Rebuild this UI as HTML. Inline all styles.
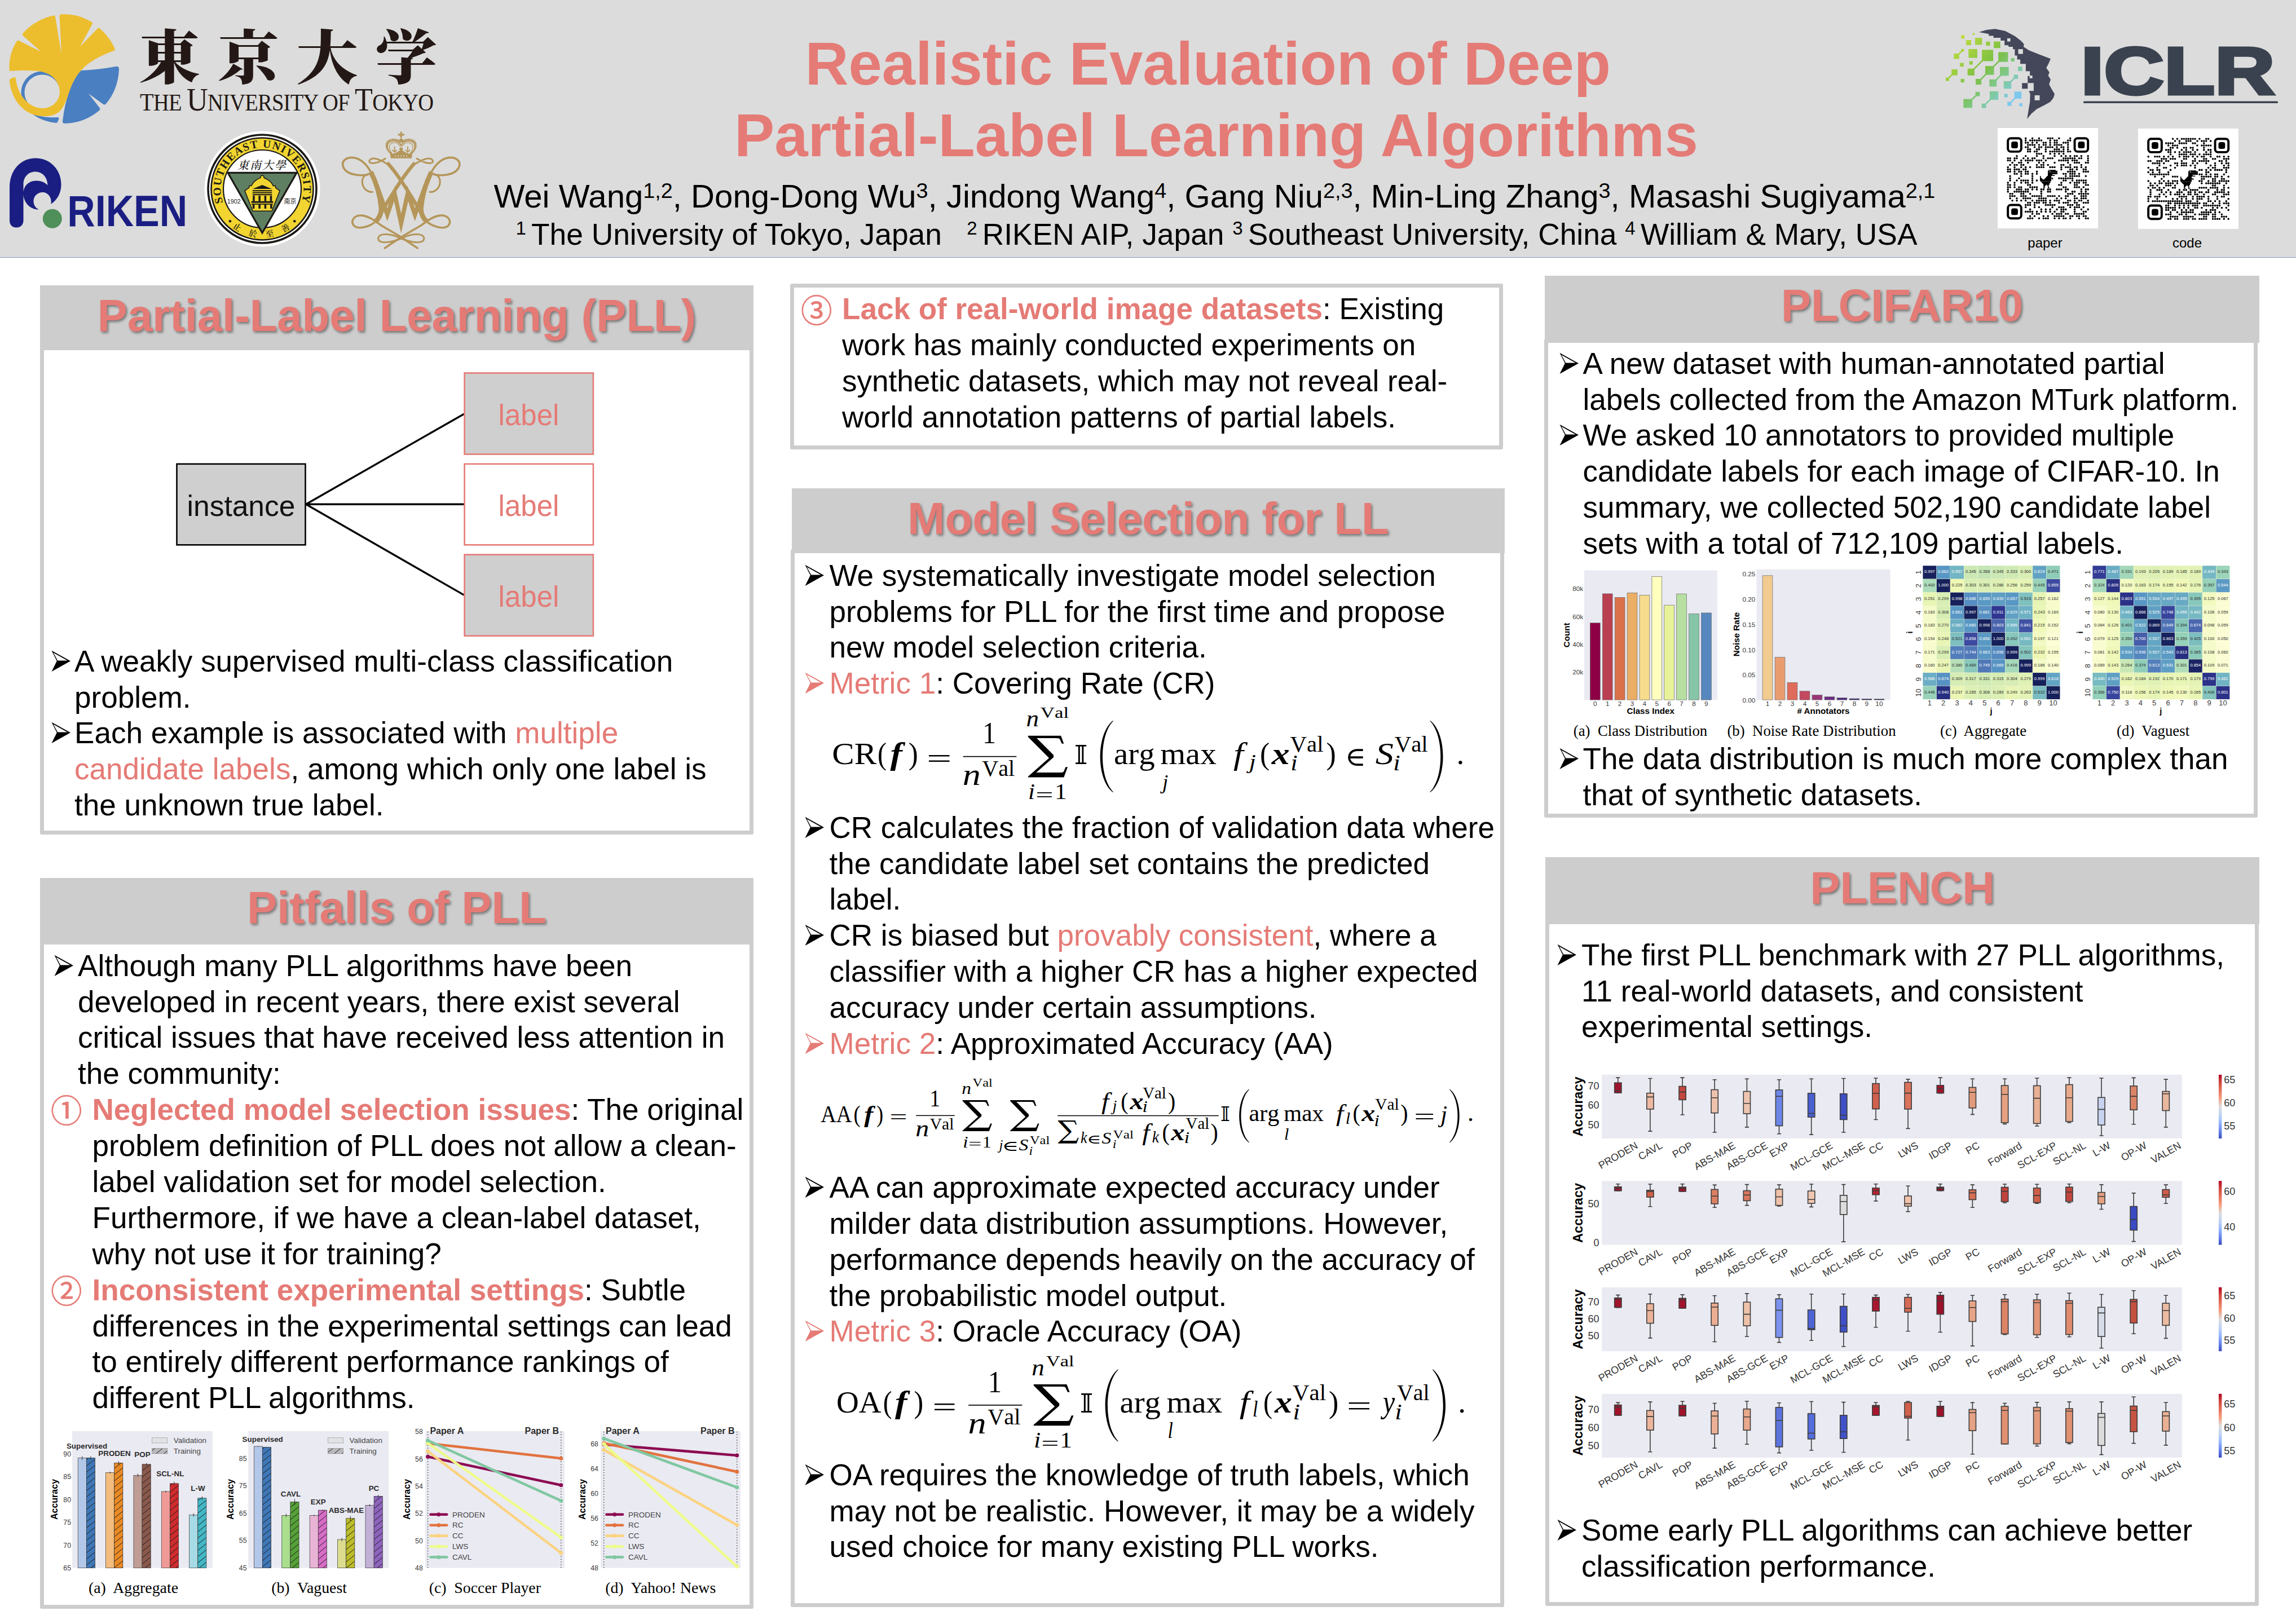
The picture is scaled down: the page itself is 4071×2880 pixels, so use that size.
<!DOCTYPE html>
<html lang="en"><head><meta charset="utf-8"><title>Realistic Evaluation of Deep Partial-Label Learning Algorithms</title>
<style>
html,body{margin:0;padding:0}
body{width:4071px;height:2880px;position:relative;overflow:hidden;background:#fff;font-family:"Liberation Sans","Noto Sans CJK JP",sans-serif;color:#000}
.t{position:absolute;white-space:nowrap;}
.ab{position:absolute;overflow:visible}
.abs{position:absolute}
.pb{position:absolute;border:7px solid #cdcdcd;border-radius:3px;background:#fff}
.ph{position:absolute;background:#cdcdcd}
.pt{position:absolute;text-align:center;font-weight:bold;font-size:79.6px;line-height:96px;color:#e57b76;text-shadow:2.5px 3px 4px rgba(0,0,0,.42);white-space:nowrap}
.s{color:#e57b76}
.sb{color:#e57b76;font-weight:bold}
svg text{white-space:pre}
sup.a{font-size:65%;vertical-align:baseline;position:relative;top:-0.46em;line-height:0}

.sc{font-size:42px}.bc{font-size:57px}
sup.b{font-size:62%;vertical-align:baseline;position:relative;top:-0.54em;line-height:0}
</style></head><body>
<div class="abs" style="left:0;top:0;width:4071px;height:456px;background:#dcdcdc"></div>
<div class="abs" style="left:0;top:456px;width:4071px;height:1.1px;background:#8496c8"></div>
<!-- UTokyo ginkgo -->
<svg class="abs" style="left:10px;top:20px" width="210" height="210" viewBox="10 20 210 210">
<g fill="#4a7fc1">
<path d="M143 125 C165 124 186 121.5 205 118 Q211.5 117 211 123.5 C210 146 202 168 188 184 Q185.5 187 182.5 184.5 L157 166 L176.5 191 Q178.5 194 176 196 C158 211 137 218.5 115 219 Q110.5 219 111 215 C113 196 117 178 123 161 C128 147 134 135 143 125 Z"/>
<path d="M75 126.5 a37.5 37.5 0 1 0 0.01 0 Z M75 132.5 a31.5 31.5 0 1 1 -0.01 0 Z" fill-rule="evenodd"/>
<path d="M56 201 C70 207 86 209 101 208 Q106 208 104 212 L101 218 C86 217 70 212 56 201 Z"/>
</g>
<g fill="#ecbe2e">
<path d="M16.5 116 C17 100 22 85 29.5 73.5 Q31.5 70.5 34.5 72.5 L73 92 L41 63.5 Q38.5 61 41 58.5 C55 43 74 32 95 27.5 Q97.5 27 98 29.5 L109 96 L105.5 28 Q105.5 25.5 108 25.5 C127 24 146 29 162.5 39 Q165 40.5 163.5 43 L142 82.500 L173 50.5 Q175 48.500 177 50.5 C188.500 60.500 198 73 203.500 86 Q204.500 89.500 201 90.500 C180 97.500 160 108 145.500 123 C134 135 127 150 122 165 C118 178 113 190 106 197 C98 205 86 206.500 74 206 C52 205 33 190 24 170 C20 161 17.500 152 16.800 143 Q16.500 140.500 19 139.500 L24.500 137 Q27.500 136 27.800 139 C29 149 32 159 37.500 168 C46 182 60 192 76 192 C91 192 103 181 105.500 168 C108 153 99 138 86 131.500 C78 127.500 70 126 62 125.500 C47 124.500 33 125 20 126 Q16 126.300 16.500 122 Z"/>
</g>
</svg>
<!-- UTokyo wordmark -->
<div class="t" style="left:246px;top:19.5px;font-family:'Noto Serif CJK JP','Noto Serif CJK SC',serif;font-weight:900;font-size:104px;line-height:150px;letter-spacing:28.5px;transform:scaleX(1.055);transform-origin:0 0;color:#231815">東京大学</div>
<div class="t" style="left:248px;top:147px;font-family:'Liberation Serif',serif;font-size:44px;line-height:60px;color:#231815;letter-spacing:-0.8px;transform:scaleX(0.916);transform-origin:0 0">T<span class="sc">HE</span> <span class="bc">U</span><span class="sc">NIVERSITY OF</span> <span class="bc">T</span><span class="sc">OKYO</span></div>
<!-- RIKEN -->
<svg class="abs" style="left:10px;top:275px" width="330" height="140" viewBox="10 275 330 140">
<path fill="#1a1e82" fill-rule="evenodd" d="M17 333 C17 300 38 280.500 63 280.500 C89 280.500 108.500 301 108.500 327 C108.500 341 103 353 90.500 362 C92.500 349 84 341 75.500 341 C66.500 341 59.500 348 59.500 356.500 C59.500 364 63.500 369.500 69 371.500 C55 372 42.500 361 41.500 345 L41.500 391 C41.500 399 36 403.500 29 403.500 C22 403.500 17 399 17 391 Z M41.500 340 C43 328 52 320.500 65 320.500 C73 320.500 80 323.500 84.500 328.500 C84 314 75 304.500 62.500 304.500 C50 304.500 41.500 314 41.500 327 Z"/>
<circle cx="92.800" cy="387.800" r="17" fill="#4f8f5a"/>
<text x="119.2" y="401" font-family="'Liberation Sans',sans-serif" font-weight="bold" font-size="77" fill="#1a1e82" textLength="213" lengthAdjust="spacingAndGlyphs">RIKEN</text>
</svg>
<svg class="abs" style="left:359.8px;top:230.39999999999998px" width="210" height="210" viewBox="359.8 230.39999999999998 210 210"><circle cx="464.8" cy="335.4" r="102.5" fill="#fff"/><circle cx="464.8" cy="335.4" r="96" fill="none" stroke="#1c1a17" stroke-width="3.600"/><circle cx="464.8" cy="335.4" r="80" fill="none" stroke="#f2d530" stroke-width="21"/><circle cx="464.8" cy="335.4" r="90.500" fill="none" stroke="#1c1a17" stroke-width="2.600"/><circle cx="464.8" cy="335.4" r="69" fill="none" stroke="#1c1a17" stroke-width="2.200"/><defs><path id="seuarc" d="M395.30 359.33 A73.5 73.5 0 1 1 534.30 359.33"/><path id="seuarc2" d="M411.85 403.17 A86 86 0 0 0 517.75 403.17"/></defs><text font-family="'Liberation Serif',serif" font-weight="bold" font-size="19.500" fill="#1c1a17" textLength="277.7" lengthAdjust="spacing"><textPath href="#seuarc">SOUTHEAST UNIVERSITY</textPath></text><text font-family="'Noto Serif CJK SC',serif" font-weight="600" font-size="14.500" fill="#1c1a17" textLength="110.1" lengthAdjust="spacing"><textPath href="#seuarc2">止於至善</textPath></text><circle cx="407.7" cy="392.7" r="2.300" fill="#1c1a17"/><circle cx="522.0" cy="392.7" r="2.300" fill="#1c1a17"/><path d="M403.8 306.7 L525.8 306.7 L464.8 413.5 Z" fill="#5f7f62" stroke="#1c1a17" stroke-width="3.200" stroke-linejoin="miter"/><path d="M433.8 338.7 L441.5 333.2 L441.5 330.0 L445.8 330.0 C448.0 322.4 457.8 316.9 461.7 315.8 L461.7 313.2 L464.8 311.0 L467.8 313.2 L467.8 315.8 C472.0 316.9 481.8 322.4 483.9 330.0 L488.3 330.0 L488.3 333.2 L495.9 338.7 L481.8 374.6 L448.0 374.6 Z" fill="#f2d530" stroke="#1c1a17" stroke-width="1.500"/><path d="M447.6 335.4 L464.8 328.4 L482.0 335.4 Z" fill="#1c1a17"/><rect x="447.6" y="337.6" width="34.4" height="2.0" fill="#1c1a17"/><rect x="447.6" y="341.1" width="34.4" height="2.0" fill="#1c1a17"/><rect x="447.6" y="344.6" width="34.4" height="2.0" fill="#1c1a17"/><rect x="448.0" y="347.4" width="3.5" height="9.8" fill="#1c1a17"/><rect x="458.2" y="347.4" width="3.5" height="9.8" fill="#1c1a17"/><rect x="468.5" y="347.4" width="3.5" height="9.8" fill="#1c1a17"/><rect x="478.5" y="347.4" width="3.5" height="9.8" fill="#1c1a17"/><rect x="445.4" y="357.2" width="38.8" height="3.0" fill="#1c1a17"/><rect x="447.6" y="362.6" width="3.5" height="7.8" fill="#1c1a17"/><rect x="458.2" y="362.6" width="3.5" height="7.8" fill="#1c1a17"/><rect x="468.5" y="362.6" width="3.5" height="7.8" fill="#1c1a17"/><rect x="478.9" y="362.6" width="3.5" height="7.8" fill="#1c1a17"/><rect x="445.8" y="361.6" width="37.9" height="1.7" fill="#1c1a17"/><text x="464.8" y="300.1" text-anchor="middle" font-family="'Noto Serif CJK TC','Noto Serif CJK SC',serif" font-weight="500" font-size="20" fill="#1c1a17" letter-spacing="2" font-style="italic">東南大學</text><text x="414.5" y="361.1" text-anchor="middle" font-family="'Liberation Sans',sans-serif" font-size="10.800" fill="#1c1a17">1902</text><text x="514.4" y="361.1" text-anchor="middle" font-family="'Noto Sans CJK SC',sans-serif" font-size="11" fill="#1c1a17">南京</text></svg>
<svg class="abs" style="left:600px;top:228px" width="226" height="218" viewBox="600 228 226 218"><g fill="none" stroke="#b5965a" stroke-linecap="round" stroke-linejoin="round"><path stroke-width="3.600" d="M652.2 309.7 C640.6 311.7 617.6 311.7 609.5 298.2 C602.7 284.6 616.3 276.5 631.2 280.5 C644.7 284.6 654.2 298.2 659.6 309.0"/><path stroke-width="8.500" stroke-linecap="butt" d="M657.6 304.9 C666.4 322.5 673.8 346.9 675.9 368.6 C676.5 379.4 671.8 387.6 665.0 393.7"/><path stroke-width="3.600" d="M667.7 390.9 C656.9 402.5 633.9 407.9 627.1 399.7 C620.3 390.3 629.8 380.8 642.0 382.1 C654.2 383.5 665.0 391.6 675.9 399.7 L708.4 418.7 L740.2 440.1"/><path stroke-width="3.200" d="M660.3 340.4 C651.5 341.5 642.3 333.4 642.3 322.5 C642.3 314.4 647.4 309.7 654.2 308.3"/><path stroke-width="3" d="M683.3 281.2 C675.9 286.0 663.7 291.4 656.9 288.7 C651.5 286.0 656.9 279.9 665.0 281.2 C673.2 282.6 681.3 287.3 688.7 292.1"/><path stroke-width="6.200" stroke-linecap="butt" d="M686.7 288.7 C703.0 306.3 727.3 344.2 747.0 378.1"/><path stroke-width="3" d="M711.2 423.0 C694.8 414.7 673.8 411.9 670.7 421.4 C668.4 432.3 689.4 432.0 711.2 423.0"/><path stroke-width="3.600" d="M770.3 309.7 C781.8 311.7 804.8 311.7 813.0 298.2 C819.7 284.6 806.2 276.5 791.3 280.5 C777.7 284.6 768.2 298.2 762.8 309.0"/><path stroke-width="8.500" stroke-linecap="butt" d="M764.9 304.9 C756.1 322.5 748.6 346.9 746.6 368.6 C745.9 379.4 750.6 387.6 757.4 393.7"/><path stroke-width="3.600" d="M754.7 390.9 C765.5 402.5 788.6 407.9 795.3 399.7 C802.1 390.3 792.6 380.8 780.4 382.1 C768.2 383.5 757.4 391.6 746.6 399.7 L714.1 418.7 L682.2 440.1"/><path stroke-width="3.200" d="M762.2 340.4 C771.0 341.5 780.2 333.4 780.2 322.5 C780.2 314.4 775.0 309.7 768.2 308.3"/><path stroke-width="3" d="M739.1 281.2 C746.6 286.0 758.8 291.4 765.5 288.7 C771.0 286.0 765.5 279.9 757.4 281.2 C749.3 282.6 741.2 287.3 733.7 292.1"/><path stroke-width="6.200" stroke-linecap="butt" d="M735.7 288.7 C719.5 306.3 695.1 344.2 675.5 378.1"/><path stroke-width="3" d="M711.2 423.0 C727.6 414.7 748.6 411.9 751.7 421.4 C754.0 432.3 733.0 432.0 711.2 423.0"/></g><path fill="none" stroke="#b5965a" stroke-width="7.500" stroke-linejoin="miter" stroke-miterlimit="30" d="M667.7 328.0 L686.7 380.8 L699.6 342.9 L711.2 396.4 L722.9 342.9 L735.7 380.8 L754.7 328.0"/><g fill="none" stroke="#b5965a" stroke-width="2.200" stroke-linecap="round"><path d="M694.8 274.4 C684.7 265.6 683.3 252.1 695.5 249.8 C703.6 248.4 709.0 252.8 711.2 258.2"/><path stroke-width="1.200" d="M697.3 274.4 C688.7 266.3 688.1 255.5 696.5 253.2 C703.0 251.8 707.7 255.5 709.5 259.9"/><path stroke-width="3" stroke-dasharray="0.100 3.200" d="M693.5 271.7 C682.6 264.3 681.0 250.1 694.8 247.4 C701.6 246.4 707.0 248.7 709.5 252.1"/><path stroke-width="1.800" d="M699.6 260.5 L699.6 270.4 M696.2 266.3 C696.5 269.0 702.7 269.0 703.0 266.3"/><path d="M727.6 274.4 C737.8 265.6 739.1 252.1 726.9 249.8 C718.8 248.4 713.4 252.8 711.2 258.2"/><path stroke-width="1.200" d="M725.2 274.4 C733.7 266.3 734.4 255.5 726.0 253.2 C719.5 251.8 714.7 255.5 713.0 259.9"/><path stroke-width="3" stroke-dasharray="0.100 3.200" d="M729.0 271.7 C739.8 264.3 741.4 250.1 727.6 247.4 C720.8 246.4 715.4 248.7 713.0 252.1"/><path stroke-width="1.800" d="M722.9 260.5 L722.9 270.4 M726.3 266.3 C726.0 269.0 719.8 269.0 719.5 266.3"/></g><g fill="#b5965a"><path d="M691.8 273.8 L730.9 273.8 L729.8 280.8 L692.9 280.8 Z"/><path d="M693.5 274.0 L703.0 270.4 L711.2 265.6 L719.5 270.4 L729.0 274.0 Z"/><circle cx="711.2" cy="249.1" r="3.600"/><circle cx="711.2" cy="264.6" r="3"/><path d="M709.5 233.8 L713.0 233.8 L712.6 237.5 L716.8 236.9 L716.8 240.7 L712.6 240.2 L713.0 244.2 L709.5 244.2 L709.9 240.2 L705.7 240.7 L705.7 236.9 L709.9 237.5 Z"/></g><circle cx="701.3" cy="276.6" r="1.050" fill="#dcdcdc"/><circle cx="706.3" cy="276.6" r="1.050" fill="#dcdcdc"/><circle cx="711.2" cy="276.6" r="1.050" fill="#dcdcdc"/><circle cx="716.2" cy="276.6" r="1.050" fill="#dcdcdc"/><circle cx="721.1" cy="276.6" r="1.050" fill="#dcdcdc"/></svg>
<svg class="abs" style="left:3440px;top:40px" width="620" height="180" viewBox="3440 40 620 180"><defs><linearGradient id="icgU" gradientUnits="userSpaceOnUse" x1="3447" y1="58" x2="3586" y2="192"><stop offset="0" stop-color="#d9e63c"/><stop offset="0.500" stop-color="#7cc043"/><stop offset="0.720" stop-color="#7fcaa0"/><stop offset="0.860" stop-color="#7ec8ee"/><stop offset="1" stop-color="#7ec8ee"/></linearGradient></defs><path fill="#44475a" d="M3509.0 57.1 L3522.1 52.9 L3537.5 51.2 L3555.6 55.1 L3572.4 64.1 L3583.5 72.4 L3588.6 78.0 L3588.0 83.0 L3597.5 89.2 L3615.7 96.4 L3636.0 104.3 L3632.4 112.4 L3628.2 120.5 L3633.8 128.3 L3631.6 133.9 L3636.0 141.1 L3633.2 149.5 L3638.0 158.4 L3643.0 166.8 L3640.8 173.8 L3635.2 180.8 L3625.4 186.3 L3611.5 193.3 L3601.7 201.7 L3594.2 210.9 L3596.4 197.5 L3599.2 180.8 L3599.7 166.8 L3597.5 161.2 L3605.9 161.2 L3605.9 147.3 L3595.3 147.3 L3595.3 134.7 L3599.2 134.7 L3599.2 126.3 L3591.9 126.3 L3591.9 113.2 L3582.1 113.2 L3582.1 105.4 L3576.6 105.4 L3576.6 98.4 L3572.4 98.4 L3572.4 87.2 L3569.0 87.2 L3569.0 83.0 L3561.2 83.0 L3561.2 80.3 L3554.2 80.3 L3554.2 71.9 L3547.3 71.9 L3547.3 66.9 L3534.7 66.9 L3534.7 63.5 L3526.3 63.5 L3526.3 60.2 Z"/><rect x="3559.0" y="68.0" width="5.6" height="5.6" fill="#dcdcdc"/><rect x="3578.5" y="87.2" width="8.4" height="8.4" fill="#dcdcdc"/><rect x="3598.6" y="133.9" width="5.0" height="5.0" fill="#dcdcdc"/><rect x="3607.6" y="169.0" width="8.9" height="8.9" fill="#dcdcdc"/><rect x="3585.2" y="147.3" width="10.1" height="10.1" fill="#44475a"/><rect x="3477.2" y="62.4" width="6.1" height="6.1" fill="url(#icgU)"/><rect x="3497.6" y="58.5" width="3.4" height="3.4" fill="url(#icgU)"/><rect x="3486.1" y="71.0" width="8.9" height="8.9" fill="url(#icgU)"/><rect x="3502.0" y="67.1" width="12.3" height="12.3" fill="url(#icgU)"/><rect x="3521.3" y="73.8" width="7.3" height="7.3" fill="url(#icgU)"/><rect x="3535.0" y="73.6" width="11.7" height="11.7" fill="url(#icgU)"/><rect x="3477.2" y="86.7" width="5.0" height="5.0" fill="url(#icgU)"/><rect x="3464.3" y="95.0" width="9.5" height="9.5" fill="url(#icgU)"/><rect x="3490.3" y="87.0" width="15.6" height="15.6" fill="url(#icgU)"/><rect x="3514.0" y="88.3" width="20.1" height="20.1" fill="url(#icgU)"/><rect x="3543.1" y="92.5" width="17.3" height="17.3" fill="url(#icgU)"/><rect x="3565.7" y="102.9" width="6.1" height="6.1" fill="url(#icgU)"/><rect x="3475.2" y="111.5" width="6.7" height="6.7" fill="url(#icgU)"/><rect x="3491.7" y="108.4" width="6.1" height="6.1" fill="url(#icgU)"/><rect x="3460.2" y="123.0" width="10.6" height="10.6" fill="url(#icgU)"/><rect x="3488.6" y="121.6" width="12.3" height="12.3" fill="url(#icgU)"/><rect x="3519.9" y="117.1" width="15.6" height="15.6" fill="url(#icgU)"/><rect x="3546.1" y="118.8" width="15.6" height="15.6" fill="url(#icgU)"/><rect x="3578.0" y="118.2" width="7.8" height="7.8" fill="url(#icgU)"/><rect x="3449.8" y="137.5" width="6.1" height="6.1" fill="url(#icgU)"/><rect x="3476.6" y="140.0" width="6.1" height="6.1" fill="url(#icgU)"/><rect x="3503.1" y="140.0" width="10.1" height="10.1" fill="url(#icgU)"/><rect x="3527.4" y="140.8" width="12.8" height="12.8" fill="url(#icgU)"/><rect x="3552.8" y="143.9" width="13.4" height="13.4" fill="url(#icgU)"/><rect x="3570.7" y="132.5" width="7.3" height="7.3" fill="url(#icgU)"/><rect x="3502.6" y="162.9" width="7.8" height="7.8" fill="url(#icgU)"/><rect x="3528.0" y="162.0" width="15.1" height="15.1" fill="url(#icgU)"/><rect x="3553.7" y="166.5" width="6.1" height="6.1" fill="url(#icgU)"/><rect x="3481.4" y="175.7" width="15.6" height="15.6" fill="url(#icgU)"/><rect x="3513.8" y="183.8" width="7.8" height="7.8" fill="url(#icgU)"/><rect x="3571.5" y="162.3" width="12.8" height="12.8" fill="url(#icgU)"/><rect x="3559.3" y="180.5" width="7.3" height="7.3" fill="url(#icgU)"/><rect x="3580.2" y="183.0" width="5.6" height="5.6" fill="url(#icgU)"/><path d="M3469.1 99.8 L3479.7 89.2" stroke="url(#icgU)" stroke-width="2.600"/><path d="M3494.8 127.7 L3524.1 98.4" stroke="url(#icgU)" stroke-width="2.600"/><path d="M3527.7 124.9 L3551.7 101.2" stroke="url(#icgU)" stroke-width="2.600"/><path d="M3452.9 140.6 L3465.5 128.3" stroke="url(#icgU)" stroke-width="2.600"/><path d="M3508.2 145.0 L3527.7 124.9" stroke="url(#icgU)" stroke-width="2.600"/><path d="M3533.9 147.3 L3554.0 126.6" stroke="url(#icgU)" stroke-width="2.600"/><path d="M3559.5 150.6 L3574.3 136.1" stroke="url(#icgU)" stroke-width="2.600"/><path d="M3489.2 183.5 L3506.5 166.8" stroke="url(#icgU)" stroke-width="2.600"/><path d="M3517.7 187.7 L3535.5 169.6" stroke="url(#icgU)" stroke-width="2.600"/><path d="M3562.9 184.1 L3578.0 168.7" stroke="url(#icgU)" stroke-width="2.600"/><text x="3689.5" y="166.500" font-family="'Liberation Sans',sans-serif" font-weight="bold" font-size="119" fill="#3b424f" stroke="#3b424f" stroke-width="5" stroke-linejoin="miter" textLength="344" lengthAdjust="spacingAndGlyphs">ICLR</text><rect x="3694" y="179.400" width="345" height="3.600" rx="1.500" fill="#3b424f"/></svg>
<svg class="abs" style="left:3541.5px;top:227px" width="178" height="178" viewBox="0 0 178 178"><rect width="178" height="178" fill="#fff"/><rect x="18.17" y="18.17" width="23.68" height="23.68" rx="5.13" fill="none" stroke="#000" stroke-width="3.95"/><rect x="24.09" y="24.09" width="11.84" height="11.84" rx="3.55" fill="#000"/><rect x="136.55" y="18.17" width="23.68" height="23.68" rx="5.13" fill="none" stroke="#000" stroke-width="3.95"/><rect x="142.47" y="24.09" width="11.84" height="11.84" rx="3.55" fill="#000"/><rect x="18.17" y="136.55" width="23.68" height="23.68" rx="5.13" fill="none" stroke="#000" stroke-width="3.95"/><rect x="24.09" y="142.47" width="11.84" height="11.84" rx="3.55" fill="#000"/><path d="M49.7 18.2h0M61.6 18.2h0M73.4 18.2h0M89.2 18.2h0M93.1 18.2h0M97.1 18.2h0M108.9 18.2h0M128.7 18.2h0M49.7 22.1h0M57.6 22.1h0M61.6 22.1h0M65.5 22.1h0M69.5 22.1h0M73.4 22.1h0M77.4 22.1h0M93.1 22.1h0M101.0 22.1h0M105.0 22.1h0M124.7 22.1h0M128.7 22.1h0M49.7 26.1h0M53.7 26.1h0M61.6 26.1h0M69.5 26.1h0M81.3 26.1h0M85.3 26.1h0M93.1 26.1h0M101.0 26.1h0M105.0 26.1h0M116.8 26.1h0M120.8 26.1h0M124.7 26.1h0M53.7 30.0h0M57.6 30.0h0M61.6 30.0h0M65.5 30.0h0M73.4 30.0h0M81.3 30.0h0M85.3 30.0h0M93.1 30.0h0M101.0 30.0h0M105.0 30.0h0M108.9 30.0h0M112.9 30.0h0M124.7 30.0h0M49.7 34.0h0M53.7 34.0h0M65.5 34.0h0M73.4 34.0h0M77.4 34.0h0M85.3 34.0h0M89.2 34.0h0M93.1 34.0h0M97.1 34.0h0M105.0 34.0h0M112.9 34.0h0M116.8 34.0h0M124.7 34.0h0M53.7 37.9h0M57.6 37.9h0M69.5 37.9h0M73.4 37.9h0M85.3 37.9h0M101.0 37.9h0M105.0 37.9h0M108.9 37.9h0M116.8 37.9h0M124.7 37.9h0M53.7 41.8h0M57.6 41.8h0M65.5 41.8h0M69.5 41.8h0M85.3 41.8h0M93.1 41.8h0M97.1 41.8h0M101.0 41.8h0M105.0 41.8h0M108.9 41.8h0M112.9 41.8h0M116.8 41.8h0M124.7 41.8h0M128.7 41.8h0M69.5 45.8h0M73.4 45.8h0M77.4 45.8h0M93.1 45.8h0M101.0 45.8h0M108.9 45.8h0M116.8 45.8h0M34.0 49.7h0M49.7 49.7h0M69.5 49.7h0M81.3 49.7h0M101.0 49.7h0M112.9 49.7h0M120.8 49.7h0M128.7 49.7h0M136.6 49.7h0M140.5 49.7h0M148.4 49.7h0M160.2 49.7h0M18.2 53.7h0M22.1 53.7h0M30.0 53.7h0M34.0 53.7h0M45.8 53.7h0M53.7 53.7h0M61.6 53.7h0M65.5 53.7h0M81.3 53.7h0M89.2 53.7h0M93.1 53.7h0M97.1 53.7h0M116.8 53.7h0M120.8 53.7h0M124.7 53.7h0M128.7 53.7h0M132.6 53.7h0M136.6 53.7h0M144.4 53.7h0M148.4 53.7h0M160.2 53.7h0M18.2 57.6h0M22.1 57.6h0M30.0 57.6h0M41.8 57.6h0M49.7 57.6h0M53.7 57.6h0M57.6 57.6h0M61.6 57.6h0M69.5 57.6h0M73.4 57.6h0M77.4 57.6h0M85.3 57.6h0M108.9 57.6h0M112.9 57.6h0M116.8 57.6h0M120.8 57.6h0M124.7 57.6h0M132.6 57.6h0M136.6 57.6h0M140.5 57.6h0M160.2 57.6h0M26.1 61.6h0M37.9 61.6h0M41.8 61.6h0M53.7 61.6h0M73.4 61.6h0M81.3 61.6h0M101.0 61.6h0M124.7 61.6h0M136.6 61.6h0M140.5 61.6h0M144.4 61.6h0M156.3 61.6h0M160.2 61.6h0M22.1 65.5h0M30.0 65.5h0M34.0 65.5h0M41.8 65.5h0M45.8 65.5h0M69.5 65.5h0M77.4 65.5h0M81.3 65.5h0M89.2 65.5h0M112.9 65.5h0M116.8 65.5h0M128.7 65.5h0M148.4 65.5h0M18.2 69.5h0M30.0 69.5h0M41.8 69.5h0M49.7 69.5h0M57.6 69.5h0M69.5 69.5h0M73.4 69.5h0M77.4 69.5h0M81.3 69.5h0M93.1 69.5h0M97.1 69.5h0M101.0 69.5h0M112.9 69.5h0M120.8 69.5h0M124.7 69.5h0M128.7 69.5h0M136.6 69.5h0M140.5 69.5h0M148.4 69.5h0M156.3 69.5h0M18.2 73.4h0M22.1 73.4h0M30.0 73.4h0M34.0 73.4h0M37.9 73.4h0M45.8 73.4h0M49.7 73.4h0M112.9 73.4h0M128.7 73.4h0M132.6 73.4h0M140.5 73.4h0M152.3 73.4h0M156.3 73.4h0M18.2 77.4h0M22.1 77.4h0M30.0 77.4h0M37.9 77.4h0M41.8 77.4h0M49.7 77.4h0M53.7 77.4h0M69.5 77.4h0M124.7 77.4h0M128.7 77.4h0M132.6 77.4h0M136.6 77.4h0M152.3 77.4h0M156.3 77.4h0M160.2 77.4h0M30.0 81.3h0M34.0 81.3h0M41.8 81.3h0M49.7 81.3h0M53.7 81.3h0M61.6 81.3h0M69.5 81.3h0M116.8 81.3h0M120.8 81.3h0M128.7 81.3h0M132.6 81.3h0M136.6 81.3h0M144.4 81.3h0M22.1 85.3h0M41.8 85.3h0M61.6 85.3h0M120.8 85.3h0M128.7 85.3h0M132.6 85.3h0M136.6 85.3h0M140.5 85.3h0M144.4 85.3h0M156.3 85.3h0M22.1 89.2h0M37.9 89.2h0M61.6 89.2h0M108.9 89.2h0M112.9 89.2h0M116.8 89.2h0M120.8 89.2h0M124.7 89.2h0M128.7 89.2h0M132.6 89.2h0M22.1 93.1h0M34.0 93.1h0M41.8 93.1h0M45.8 93.1h0M49.7 93.1h0M53.7 93.1h0M61.6 93.1h0M69.5 93.1h0M116.8 93.1h0M120.8 93.1h0M132.6 93.1h0M140.5 93.1h0M144.4 93.1h0M148.4 93.1h0M152.3 93.1h0M156.3 93.1h0M18.2 97.1h0M30.0 97.1h0M41.8 97.1h0M49.7 97.1h0M53.7 97.1h0M61.6 97.1h0M112.9 97.1h0M128.7 97.1h0M136.6 97.1h0M140.5 97.1h0M144.4 97.1h0M152.3 97.1h0M156.3 97.1h0M18.2 101.0h0M22.1 101.0h0M30.0 101.0h0M53.7 101.0h0M57.6 101.0h0M108.9 101.0h0M112.9 101.0h0M136.6 101.0h0M140.5 101.0h0M156.3 101.0h0M160.2 101.0h0M18.2 105.0h0M22.1 105.0h0M30.0 105.0h0M37.9 105.0h0M41.8 105.0h0M57.6 105.0h0M61.6 105.0h0M65.5 105.0h0M69.5 105.0h0M116.8 105.0h0M120.8 105.0h0M136.6 105.0h0M140.5 105.0h0M144.4 105.0h0M152.3 105.0h0M18.2 108.9h0M34.0 108.9h0M37.9 108.9h0M41.8 108.9h0M49.7 108.9h0M53.7 108.9h0M61.6 108.9h0M69.5 108.9h0M77.4 108.9h0M81.3 108.9h0M89.2 108.9h0M93.1 108.9h0M105.0 108.9h0M108.9 108.9h0M112.9 108.9h0M120.8 108.9h0M124.7 108.9h0M148.4 108.9h0M156.3 108.9h0M160.2 108.9h0M18.2 112.9h0M30.0 112.9h0M34.0 112.9h0M37.9 112.9h0M41.8 112.9h0M45.8 112.9h0M49.7 112.9h0M53.7 112.9h0M77.4 112.9h0M89.2 112.9h0M93.1 112.9h0M120.8 112.9h0M132.6 112.9h0M136.6 112.9h0M148.4 112.9h0M156.3 112.9h0M22.1 116.8h0M26.1 116.8h0M41.8 116.8h0M45.8 116.8h0M57.6 116.8h0M77.4 116.8h0M124.7 116.8h0M128.7 116.8h0M132.6 116.8h0M144.4 116.8h0M148.4 116.8h0M152.3 116.8h0M156.3 116.8h0M160.2 116.8h0M22.1 120.8h0M26.1 120.8h0M30.0 120.8h0M41.8 120.8h0M45.8 120.8h0M49.7 120.8h0M61.6 120.8h0M65.5 120.8h0M69.5 120.8h0M73.4 120.8h0M77.4 120.8h0M89.2 120.8h0M93.1 120.8h0M97.1 120.8h0M101.0 120.8h0M108.9 120.8h0M120.8 120.8h0M124.7 120.8h0M136.6 120.8h0M148.4 120.8h0M152.3 120.8h0M156.3 120.8h0M22.1 124.7h0M34.0 124.7h0M45.8 124.7h0M49.7 124.7h0M53.7 124.7h0M57.6 124.7h0M73.4 124.7h0M77.4 124.7h0M81.3 124.7h0M85.3 124.7h0M105.0 124.7h0M112.9 124.7h0M120.8 124.7h0M136.6 124.7h0M140.5 124.7h0M148.4 124.7h0M152.3 124.7h0M156.3 124.7h0M26.1 128.7h0M34.0 128.7h0M41.8 128.7h0M49.7 128.7h0M61.6 128.7h0M69.5 128.7h0M73.4 128.7h0M77.4 128.7h0M81.3 128.7h0M85.3 128.7h0M93.1 128.7h0M101.0 128.7h0M105.0 128.7h0M108.9 128.7h0M124.7 128.7h0M128.7 128.7h0M136.6 128.7h0M144.4 128.7h0M148.4 128.7h0M160.2 128.7h0M53.7 132.6h0M57.6 132.6h0M65.5 132.6h0M69.5 132.6h0M73.4 132.6h0M81.3 132.6h0M85.3 132.6h0M93.1 132.6h0M108.9 132.6h0M116.8 132.6h0M120.8 132.6h0M124.7 132.6h0M136.6 132.6h0M140.5 132.6h0M152.3 132.6h0M156.3 132.6h0M160.2 132.6h0M49.7 136.6h0M53.7 136.6h0M57.6 136.6h0M65.5 136.6h0M85.3 136.6h0M89.2 136.6h0M93.1 136.6h0M97.1 136.6h0M101.0 136.6h0M124.7 136.6h0M128.7 136.6h0M132.6 136.6h0M140.5 136.6h0M144.4 136.6h0M49.7 140.5h0M65.5 140.5h0M73.4 140.5h0M97.1 140.5h0M108.9 140.5h0M112.9 140.5h0M116.8 140.5h0M128.7 140.5h0M136.6 140.5h0M140.5 140.5h0M144.4 140.5h0M152.3 140.5h0M57.6 144.4h0M77.4 144.4h0M85.3 144.4h0M93.1 144.4h0M105.0 144.4h0M112.9 144.4h0M116.8 144.4h0M120.8 144.4h0M136.6 144.4h0M148.4 144.4h0M160.2 144.4h0M49.7 148.4h0M53.7 148.4h0M57.6 148.4h0M61.6 148.4h0M69.5 148.4h0M77.4 148.4h0M85.3 148.4h0M93.1 148.4h0M101.0 148.4h0M112.9 148.4h0M116.8 148.4h0M136.6 148.4h0M152.3 148.4h0M156.3 148.4h0M61.6 152.3h0M69.5 152.3h0M73.4 152.3h0M97.1 152.3h0M105.0 152.3h0M108.9 152.3h0M112.9 152.3h0M120.8 152.3h0M124.7 152.3h0M136.6 152.3h0M140.5 152.3h0M144.4 152.3h0M148.4 152.3h0M152.3 152.3h0M57.6 156.3h0M65.5 156.3h0M81.3 156.3h0M89.2 156.3h0M101.0 156.3h0M105.0 156.3h0M108.9 156.3h0M112.9 156.3h0M116.8 156.3h0M128.7 156.3h0M132.6 156.3h0M140.5 156.3h0M144.4 156.3h0M152.3 156.3h0M156.3 156.3h0M53.7 160.2h0M57.6 160.2h0M61.6 160.2h0M73.4 160.2h0M81.3 160.2h0M85.3 160.2h0M89.2 160.2h0M101.0 160.2h0M108.9 160.2h0M116.8 160.2h0M120.8 160.2h0M128.7 160.2h0M144.4 160.2h0M156.3 160.2h0M160.2 160.2h0" stroke="#000" stroke-width="3.63" stroke-linecap="round" fill="none"/><path d="M90.50 74.22h12.40v1.55h-12.40zM88.95 75.77h3.10v1.55h-3.10zM93.60 75.77h12.40v1.55h-12.40zM88.95 77.32h17.05v1.55h-17.05zM88.95 78.88h17.05v1.55h-17.05zM88.95 80.42h17.05v1.55h-17.05zM88.95 81.97h7.75v1.55h-7.75zM88.95 83.52h12.40v1.55h-12.40zM75.00 85.07h1.55v1.55h-1.55zM87.40 85.07h7.75v1.55h-7.75zM75.00 86.62h1.55v1.55h-1.55zM85.85 86.62h9.30v1.55h-9.30zM75.00 88.17h3.10v1.55h-3.10zM84.30 88.17h13.95v1.55h-13.95zM75.00 89.72h4.65v1.55h-4.65zM82.75 89.72h12.40v1.55h-12.40zM96.70 89.72h1.55v1.55h-1.55zM75.00 91.27h20.15v1.55h-20.15zM75.00 92.82h20.15v1.55h-20.15zM76.55 94.38h17.05v1.55h-17.05zM78.10 95.92h15.50v1.55h-15.50zM79.65 97.47h12.40v1.55h-12.40zM81.20 99.02h10.85v1.55h-10.85zM81.20 100.57h4.65v1.55h-4.65zM87.40 100.57h3.10v1.55h-3.10zM81.20 102.12h3.10v1.55h-3.10zM88.95 102.12h1.55v1.55h-1.55zM81.20 103.67h1.55v1.55h-1.55zM88.95 103.67h1.55v1.55h-1.55zM81.20 105.22h3.10v1.55h-3.10zM88.95 105.22h3.10v1.55h-3.10z" fill="#000"/></svg>
<div class="t" style="left:3526px;width:200px;text-align:center;top:417.3px;font-size:24px;line-height:28px">paper</div>
<svg class="abs" style="left:3790.5px;top:227.5px" width="178" height="178" viewBox="0 0 178 178"><rect width="178" height="178" fill="#fff"/><rect x="18.17" y="18.17" width="23.68" height="23.68" rx="5.13" fill="none" stroke="#000" stroke-width="3.95"/><rect x="24.09" y="24.09" width="11.84" height="11.84" rx="3.55" fill="#000"/><rect x="136.55" y="18.17" width="23.68" height="23.68" rx="5.13" fill="none" stroke="#000" stroke-width="3.95"/><rect x="142.47" y="24.09" width="11.84" height="11.84" rx="3.55" fill="#000"/><rect x="18.17" y="136.55" width="23.68" height="23.68" rx="5.13" fill="none" stroke="#000" stroke-width="3.95"/><rect x="24.09" y="142.47" width="11.84" height="11.84" rx="3.55" fill="#000"/><path d="M61.6 18.2h0M69.5 18.2h0M77.4 18.2h0M81.3 18.2h0M85.3 18.2h0M89.2 18.2h0M93.1 18.2h0M97.1 18.2h0M101.0 18.2h0M108.9 18.2h0M120.8 18.2h0M124.7 18.2h0M65.5 22.1h0M73.4 22.1h0M85.3 22.1h0M89.2 22.1h0M93.1 22.1h0M105.0 22.1h0M112.9 22.1h0M116.8 22.1h0M120.8 22.1h0M128.7 22.1h0M49.7 26.1h0M53.7 26.1h0M57.6 26.1h0M61.6 26.1h0M73.4 26.1h0M77.4 26.1h0M81.3 26.1h0M85.3 26.1h0M97.1 26.1h0M101.0 26.1h0M116.8 26.1h0M53.7 30.0h0M61.6 30.0h0M65.5 30.0h0M69.5 30.0h0M105.0 30.0h0M112.9 30.0h0M116.8 30.0h0M120.8 30.0h0M124.7 30.0h0M128.7 30.0h0M57.6 34.0h0M61.6 34.0h0M69.5 34.0h0M81.3 34.0h0M85.3 34.0h0M93.1 34.0h0M97.1 34.0h0M116.8 34.0h0M49.7 37.9h0M53.7 37.9h0M57.6 37.9h0M77.4 37.9h0M85.3 37.9h0M97.1 37.9h0M105.0 37.9h0M116.8 37.9h0M124.7 37.9h0M128.7 37.9h0M53.7 41.8h0M57.6 41.8h0M65.5 41.8h0M73.4 41.8h0M81.3 41.8h0M85.3 41.8h0M89.2 41.8h0M93.1 41.8h0M101.0 41.8h0M120.8 41.8h0M128.7 41.8h0M57.6 45.8h0M73.4 45.8h0M77.4 45.8h0M81.3 45.8h0M85.3 45.8h0M93.1 45.8h0M97.1 45.8h0M101.0 45.8h0M108.9 45.8h0M116.8 45.8h0M120.8 45.8h0M124.7 45.8h0M128.7 45.8h0M18.2 49.7h0M30.0 49.7h0M34.0 49.7h0M37.9 49.7h0M45.8 49.7h0M53.7 49.7h0M61.6 49.7h0M73.4 49.7h0M81.3 49.7h0M85.3 49.7h0M89.2 49.7h0M97.1 49.7h0M105.0 49.7h0M112.9 49.7h0M116.8 49.7h0M128.7 49.7h0M140.5 49.7h0M144.4 49.7h0M152.3 49.7h0M160.2 49.7h0M41.8 53.7h0M45.8 53.7h0M49.7 53.7h0M57.6 53.7h0M61.6 53.7h0M65.5 53.7h0M81.3 53.7h0M85.3 53.7h0M101.0 53.7h0M116.8 53.7h0M120.8 53.7h0M132.6 53.7h0M136.6 53.7h0M152.3 53.7h0M156.3 53.7h0M160.2 53.7h0M18.2 57.6h0M22.1 57.6h0M34.0 57.6h0M37.9 57.6h0M41.8 57.6h0M49.7 57.6h0M53.7 57.6h0M77.4 57.6h0M97.1 57.6h0M101.0 57.6h0M108.9 57.6h0M112.9 57.6h0M116.8 57.6h0M120.8 57.6h0M124.7 57.6h0M144.4 57.6h0M148.4 57.6h0M156.3 57.6h0M26.1 61.6h0M30.0 61.6h0M34.0 61.6h0M37.9 61.6h0M45.8 61.6h0M65.5 61.6h0M69.5 61.6h0M77.4 61.6h0M81.3 61.6h0M85.3 61.6h0M97.1 61.6h0M105.0 61.6h0M120.8 61.6h0M136.6 61.6h0M148.4 61.6h0M156.3 61.6h0M160.2 61.6h0M37.9 65.5h0M57.6 65.5h0M69.5 65.5h0M77.4 65.5h0M81.3 65.5h0M85.3 65.5h0M93.1 65.5h0M101.0 65.5h0M128.7 65.5h0M136.6 65.5h0M152.3 65.5h0M160.2 65.5h0M18.2 69.5h0M34.0 69.5h0M45.8 69.5h0M49.7 69.5h0M65.5 69.5h0M101.0 69.5h0M124.7 69.5h0M132.6 69.5h0M136.6 69.5h0M152.3 69.5h0M156.3 69.5h0M160.2 69.5h0M22.1 73.4h0M26.1 73.4h0M34.0 73.4h0M37.9 73.4h0M57.6 73.4h0M108.9 73.4h0M112.9 73.4h0M120.8 73.4h0M128.7 73.4h0M136.6 73.4h0M140.5 73.4h0M144.4 73.4h0M148.4 73.4h0M156.3 73.4h0M18.2 77.4h0M26.1 77.4h0M37.9 77.4h0M53.7 77.4h0M120.8 77.4h0M124.7 77.4h0M156.3 77.4h0M22.1 81.3h0M26.1 81.3h0M30.0 81.3h0M34.0 81.3h0M37.9 81.3h0M41.8 81.3h0M45.8 81.3h0M49.7 81.3h0M53.7 81.3h0M108.9 81.3h0M112.9 81.3h0M120.8 81.3h0M128.7 81.3h0M136.6 81.3h0M140.5 81.3h0M152.3 81.3h0M30.0 85.3h0M45.8 85.3h0M61.6 85.3h0M65.5 85.3h0M69.5 85.3h0M112.9 85.3h0M116.8 85.3h0M120.8 85.3h0M124.7 85.3h0M128.7 85.3h0M136.6 85.3h0M140.5 85.3h0M148.4 85.3h0M160.2 85.3h0M41.8 89.2h0M112.9 89.2h0M116.8 89.2h0M132.6 89.2h0M136.6 89.2h0M148.4 89.2h0M152.3 89.2h0M18.2 93.1h0M37.9 93.1h0M45.8 93.1h0M53.7 93.1h0M61.6 93.1h0M65.5 93.1h0M69.5 93.1h0M108.9 93.1h0M112.9 93.1h0M124.7 93.1h0M132.6 93.1h0M136.6 93.1h0M144.4 93.1h0M148.4 93.1h0M152.3 93.1h0M156.3 93.1h0M160.2 93.1h0M22.1 97.1h0M30.0 97.1h0M37.9 97.1h0M41.8 97.1h0M49.7 97.1h0M53.7 97.1h0M57.6 97.1h0M61.6 97.1h0M69.5 97.1h0M112.9 97.1h0M120.8 97.1h0M124.7 97.1h0M128.7 97.1h0M132.6 97.1h0M136.6 97.1h0M140.5 97.1h0M144.4 97.1h0M156.3 97.1h0M22.1 101.0h0M26.1 101.0h0M34.0 101.0h0M49.7 101.0h0M53.7 101.0h0M57.6 101.0h0M65.5 101.0h0M132.6 101.0h0M136.6 101.0h0M152.3 101.0h0M18.2 105.0h0M26.1 105.0h0M30.0 105.0h0M37.9 105.0h0M45.8 105.0h0M61.6 105.0h0M65.5 105.0h0M108.9 105.0h0M112.9 105.0h0M116.8 105.0h0M120.8 105.0h0M128.7 105.0h0M132.6 105.0h0M136.6 105.0h0M140.5 105.0h0M152.3 105.0h0M160.2 105.0h0M22.1 108.9h0M34.0 108.9h0M37.9 108.9h0M41.8 108.9h0M53.7 108.9h0M73.4 108.9h0M81.3 108.9h0M85.3 108.9h0M93.1 108.9h0M97.1 108.9h0M101.0 108.9h0M105.0 108.9h0M124.7 108.9h0M140.5 108.9h0M148.4 108.9h0M152.3 108.9h0M22.1 112.9h0M41.8 112.9h0M49.7 112.9h0M57.6 112.9h0M69.5 112.9h0M73.4 112.9h0M77.4 112.9h0M89.2 112.9h0M93.1 112.9h0M101.0 112.9h0M108.9 112.9h0M112.9 112.9h0M120.8 112.9h0M124.7 112.9h0M136.6 112.9h0M140.5 112.9h0M144.4 112.9h0M148.4 112.9h0M152.3 112.9h0M160.2 112.9h0M22.1 116.8h0M37.9 116.8h0M45.8 116.8h0M57.6 116.8h0M65.5 116.8h0M69.5 116.8h0M73.4 116.8h0M81.3 116.8h0M89.2 116.8h0M93.1 116.8h0M101.0 116.8h0M105.0 116.8h0M116.8 116.8h0M132.6 116.8h0M136.6 116.8h0M152.3 116.8h0M156.3 116.8h0M160.2 116.8h0M18.2 120.8h0M22.1 120.8h0M30.0 120.8h0M34.0 120.8h0M37.9 120.8h0M49.7 120.8h0M73.4 120.8h0M77.4 120.8h0M81.3 120.8h0M85.3 120.8h0M97.1 120.8h0M105.0 120.8h0M108.9 120.8h0M112.9 120.8h0M116.8 120.8h0M124.7 120.8h0M140.5 120.8h0M148.4 120.8h0M152.3 120.8h0M18.2 124.7h0M34.0 124.7h0M61.6 124.7h0M69.5 124.7h0M77.4 124.7h0M85.3 124.7h0M97.1 124.7h0M105.0 124.7h0M108.9 124.7h0M112.9 124.7h0M124.7 124.7h0M140.5 124.7h0M160.2 124.7h0M18.2 128.7h0M26.1 128.7h0M30.0 128.7h0M34.0 128.7h0M37.9 128.7h0M41.8 128.7h0M45.8 128.7h0M49.7 128.7h0M53.7 128.7h0M57.6 128.7h0M61.6 128.7h0M65.5 128.7h0M69.5 128.7h0M73.4 128.7h0M77.4 128.7h0M85.3 128.7h0M89.2 128.7h0M93.1 128.7h0M105.0 128.7h0M124.7 128.7h0M128.7 128.7h0M136.6 128.7h0M144.4 128.7h0M156.3 128.7h0M53.7 132.6h0M57.6 132.6h0M65.5 132.6h0M69.5 132.6h0M73.4 132.6h0M77.4 132.6h0M81.3 132.6h0M85.3 132.6h0M89.2 132.6h0M93.1 132.6h0M97.1 132.6h0M101.0 132.6h0M105.0 132.6h0M108.9 132.6h0M116.8 132.6h0M120.8 132.6h0M132.6 132.6h0M144.4 132.6h0M152.3 132.6h0M156.3 132.6h0M160.2 132.6h0M49.7 136.6h0M53.7 136.6h0M65.5 136.6h0M73.4 136.6h0M81.3 136.6h0M89.2 136.6h0M97.1 136.6h0M101.0 136.6h0M105.0 136.6h0M116.8 136.6h0M120.8 136.6h0M124.7 136.6h0M128.7 136.6h0M132.6 136.6h0M136.6 136.6h0M140.5 136.6h0M144.4 136.6h0M160.2 136.6h0M49.7 140.5h0M53.7 140.5h0M57.6 140.5h0M61.6 140.5h0M65.5 140.5h0M73.4 140.5h0M81.3 140.5h0M89.2 140.5h0M101.0 140.5h0M105.0 140.5h0M112.9 140.5h0M132.6 140.5h0M140.5 140.5h0M148.4 140.5h0M156.3 140.5h0M49.7 144.4h0M53.7 144.4h0M61.6 144.4h0M65.5 144.4h0M77.4 144.4h0M85.3 144.4h0M93.1 144.4h0M97.1 144.4h0M120.8 144.4h0M128.7 144.4h0M132.6 144.4h0M136.6 144.4h0M160.2 144.4h0M57.6 148.4h0M69.5 148.4h0M77.4 148.4h0M81.3 148.4h0M85.3 148.4h0M89.2 148.4h0M93.1 148.4h0M97.1 148.4h0M112.9 148.4h0M116.8 148.4h0M120.8 148.4h0M124.7 148.4h0M128.7 148.4h0M136.6 148.4h0M144.4 148.4h0M49.7 152.3h0M53.7 152.3h0M57.6 152.3h0M73.4 152.3h0M77.4 152.3h0M85.3 152.3h0M101.0 152.3h0M108.9 152.3h0M112.9 152.3h0M116.8 152.3h0M120.8 152.3h0M124.7 152.3h0M132.6 152.3h0M136.6 152.3h0M148.4 152.3h0M57.6 156.3h0M61.6 156.3h0M65.5 156.3h0M69.5 156.3h0M81.3 156.3h0M85.3 156.3h0M89.2 156.3h0M93.1 156.3h0M97.1 156.3h0M116.8 156.3h0M120.8 156.3h0M132.6 156.3h0M136.6 156.3h0M148.4 156.3h0M152.3 156.3h0M156.3 156.3h0M53.7 160.2h0M57.6 160.2h0M65.5 160.2h0M69.5 160.2h0M81.3 160.2h0M85.3 160.2h0M89.2 160.2h0M97.1 160.2h0M101.0 160.2h0M108.9 160.2h0M112.9 160.2h0M116.8 160.2h0M120.8 160.2h0M132.6 160.2h0M136.6 160.2h0M140.5 160.2h0M144.4 160.2h0M152.3 160.2h0M160.2 160.2h0" stroke="#000" stroke-width="3.63" stroke-linecap="round" fill="none"/><path d="M90.50 74.22h12.40v1.55h-12.40zM88.95 75.77h3.10v1.55h-3.10zM93.60 75.77h12.40v1.55h-12.40zM88.95 77.32h17.05v1.55h-17.05zM88.95 78.88h17.05v1.55h-17.05zM88.95 80.42h17.05v1.55h-17.05zM88.95 81.97h7.75v1.55h-7.75zM88.95 83.52h12.40v1.55h-12.40zM75.00 85.07h1.55v1.55h-1.55zM87.40 85.07h7.75v1.55h-7.75zM75.00 86.62h1.55v1.55h-1.55zM85.85 86.62h9.30v1.55h-9.30zM75.00 88.17h3.10v1.55h-3.10zM84.30 88.17h13.95v1.55h-13.95zM75.00 89.72h4.65v1.55h-4.65zM82.75 89.72h12.40v1.55h-12.40zM96.70 89.72h1.55v1.55h-1.55zM75.00 91.27h20.15v1.55h-20.15zM75.00 92.82h20.15v1.55h-20.15zM76.55 94.38h17.05v1.55h-17.05zM78.10 95.92h15.50v1.55h-15.50zM79.65 97.47h12.40v1.55h-12.40zM81.20 99.02h10.85v1.55h-10.85zM81.20 100.57h4.65v1.55h-4.65zM87.40 100.57h3.10v1.55h-3.10zM81.20 102.12h3.10v1.55h-3.10zM88.95 102.12h1.55v1.55h-1.55zM81.20 103.67h1.55v1.55h-1.55zM88.95 103.67h1.55v1.55h-1.55zM81.20 105.22h3.10v1.55h-3.10zM88.95 105.22h3.10v1.55h-3.10z" fill="#000"/></svg>
<div class="t" style="left:3778px;width:200px;text-align:center;top:417.3px;font-size:24px;line-height:28px">code</div>
<div class="t" style="left:1427.5px;top:50.29px;font-size:106.67px;line-height:126.5px;font-weight:bold;color:#e57b76;">Realistic Evaluation of Deep</div>
<div class="t" style="left:1302.0px;top:176.79px;font-size:106.67px;line-height:126.5px;font-weight:bold;color:#e57b76;">Partial-Label Learning Algorithms</div>
<div class="t" style="left:875.5px;top:313.36px;font-size:58.12px;line-height:70px;">Wei Wang<sup class="a">1,2</sup>, Dong-Dong Wu<sup class="a">3</sup>, Jindong Wang<sup class="a">4</sup>, Gang Niu<sup class="a">2,3</sup>, Min-Ling Zhang<sup class="a">3</sup>, Masashi Sugiyama<sup class="a">2,1</sup></div>
<div class="t" style="left:914.5px;top:383.53px;font-size:53.3px;line-height:64px;"><sup class="b">1 </sup>The University of Tokyo, Japan&nbsp;&nbsp; <sup class="b">2 </sup>RIKEN AIP, Japan <sup class="b">3 </sup>Southeast University, China <sup class="b">4 </sup>William &amp; Mary, USA</div>
<div class="pb" style="left:71px;top:614px;width:1251px;height:852px"></div>
<div class="ph" style="left:71px;top:506px;width:1265px;height:115px"></div>
<div class="pt" style="left:71px;width:1265px;top:512.3px">Partial-Label Learning (PLL)</div>
<div class="pb" style="left:71px;top:1668px;width:1251px;height:1171px"></div>
<div class="ph" style="left:71px;top:1557px;width:1265px;height:118px"></div>
<div class="pt" style="left:71px;width:1265px;top:1561.8px">Pitfalls of PLL</div>
<div class="pb" style="left:1400.5px;top:502.5px;width:1250.5px;height:280.5px"></div>
<div class="pb" style="left:1402px;top:974px;width:1251px;height:1862px"></div>
<div class="ph" style="left:1404px;top:866px;width:1264px;height:115px"></div>
<div class="pt" style="left:1404px;width:1264px;top:872.3px">Model Selection for LL</div>
<div class="pb" style="left:2738px;top:601px;width:1251px;height:835px"></div>
<div class="ph" style="left:2739px;top:489px;width:1267px;height:119px"></div>
<div class="pt" style="left:2739px;width:1267px;top:493.8px">PLCIFAR10</div>
<div class="pb" style="left:2740px;top:1632px;width:1251px;height:1202px"></div>
<div class="ph" style="left:2740px;top:1520px;width:1266px;height:119px"></div>
<div class="pt" style="left:2740px;width:1266px;top:1527.3px">PLENCH</div>
<svg class="abs" style="left:300px;top:650px" width="770" height="490" viewBox="300 650 770 490">
<g stroke="#000" stroke-width="3.400" stroke-linecap="butt"><path d="M542.5 894.300L823 733.900M542.5 894.300L823 894.300M542.5 894.300L823 1055.400"/></g>
<rect x="313.500" y="822.800" width="228" height="143.500" fill="#cfcfcf" stroke="#000" stroke-width="2.600"/>
<rect x="823.600" y="661.500" width="228.300" height="144" fill="#cfcfcf" stroke="#e57b76" stroke-width="2.600"/>
<rect x="823.600" y="822.800" width="228.300" height="143.500" fill="#fff" stroke="#e57b76" stroke-width="2.600"/>
<rect x="823.600" y="983.600" width="228.300" height="144" fill="#cfcfcf" stroke="#e57b76" stroke-width="2.600"/>
<g font-family="'Liberation Sans',sans-serif" text-anchor="middle">
<text x="427.500" y="915" font-size="51.500" fill="#111">instance</text>
<g font-size="51" fill="#e57b76"><text x="937.500" y="753.600">label</text><text x="937.500" y="914.600">label</text><text x="937.500" y="1075.600">label</text></g>
</g>
</svg>
<svg class="ab" style="left:90.8px;top:1153.0px" width="35" height="39" viewBox="0 0 35 39"><path d="M0.5 0.8 L34 19.3 L0.5 38 L9.8 19.3 Z" fill="#000"/><path d="M3.6 4.6 L28.6 18.5 L11.2 18.5 Z" fill="#fff"/></svg>
<div class="t" style="left:132.0px;top:1141.19px;font-size:53.05px;line-height:63.85px;">A weakly supervised multi-class classification<br>problem.</div>
<svg class="ab" style="left:90.8px;top:1280.2px" width="35" height="39" viewBox="0 0 35 39"><path d="M0.5 0.8 L34 19.3 L0.5 38 L9.8 19.3 Z" fill="#000"/><path d="M3.6 4.6 L28.6 18.5 L11.2 18.5 Z" fill="#fff"/></svg>
<div class="t" style="left:132.0px;top:1268.39px;font-size:53.05px;line-height:63.85px;">Each example is associated with <span class="s">multiple<br>candidate labels</span>, among which only one label is<br>the unknown true label.</div>
<svg class="ab" style="left:95.8px;top:1692.5px" width="35" height="39" viewBox="0 0 35 39"><path d="M0.5 0.8 L34 19.3 L0.5 38 L9.8 19.3 Z" fill="#000"/><path d="M3.6 4.6 L28.6 18.5 L11.2 18.5 Z" fill="#fff"/></svg>
<div class="t" style="left:138.0px;top:1680.69px;font-size:53.05px;line-height:63.85px;">Although many PLL algorithms have been<br>developed in recent years, there exist several<br>critical issues that have received less attention in<br>the community:</div>
<div class="t" style="left:90.0px;top:1935.34px;font-size:55.5px;line-height:63.85px;"><span class="s" style="font-family:'Noto Sans CJK JP','Liberation Sans',sans-serif;font-weight:400;-webkit-text-stroke:0.75px #e57b76">①</span></div>
<div class="t" style="left:163.5px;top:1936.19px;font-size:53.05px;line-height:63.85px;"><span class="sb">Neglected model selection issues</span>: The original<br>problem definition of PLL does not allow a clean-<br>label validation set for model selection.<br>Furthermore, if we have a clean-label dataset,<br>why not use it for training?</div>
<div class="t" style="left:90.0px;top:2254.84px;font-size:55.5px;line-height:63.85px;"><span class="s" style="font-family:'Noto Sans CJK JP','Liberation Sans',sans-serif;font-weight:400;-webkit-text-stroke:0.75px #e57b76">②</span></div>
<div class="t" style="left:163.5px;top:2255.69px;font-size:53.05px;line-height:63.85px;"><span class="sb">Inconsistent experimental settings</span>: Subtle<br>differences in the experimental settings can lead<br>to entirely different performance rankings of<br>different PLL algorithms.</div>
<svg class="abs" style="left:80px;top:2525px" width="1250" height="320" viewBox="80 2525 1250 320" font-family="'Liberation Sans',sans-serif"><defs><pattern id="ha0" patternUnits="userSpaceOnUse" width="7.600" height="11" patternTransform="skewY(-38.700)"><rect width="7.600" height="11" fill="#3f77b7"/><path d="M0 5.500H7.600" stroke="#1a1a1a" stroke-width="1.050"/></pattern><pattern id="ha1" patternUnits="userSpaceOnUse" width="7.600" height="11" patternTransform="skewY(-38.700)"><rect width="7.600" height="11" fill="#ea8a25"/><path d="M0 5.500H7.600" stroke="#1a1a1a" stroke-width="1.050"/></pattern><pattern id="ha2" patternUnits="userSpaceOnUse" width="7.600" height="11" patternTransform="skewY(-38.700)"><rect width="7.600" height="11" fill="#8a594c"/><path d="M0 5.500H7.600" stroke="#1a1a1a" stroke-width="1.050"/></pattern><pattern id="ha3" patternUnits="userSpaceOnUse" width="7.600" height="11" patternTransform="skewY(-38.700)"><rect width="7.600" height="11" fill="#cf2c2e"/><path d="M0 5.500H7.600" stroke="#1a1a1a" stroke-width="1.050"/></pattern><pattern id="ha4" patternUnits="userSpaceOnUse" width="7.600" height="11" patternTransform="skewY(-38.700)"><rect width="7.600" height="11" fill="#43b7c6"/><path d="M0 5.500H7.600" stroke="#1a1a1a" stroke-width="1.050"/></pattern><pattern id="hb0" patternUnits="userSpaceOnUse" width="7.600" height="11" patternTransform="skewY(-38.700)"><rect width="7.600" height="11" fill="#3f77b7"/><path d="M0 5.500H7.600" stroke="#1a1a1a" stroke-width="1.050"/></pattern><pattern id="hb1" patternUnits="userSpaceOnUse" width="7.600" height="11" patternTransform="skewY(-38.700)"><rect width="7.600" height="11" fill="#55a038"/><path d="M0 5.500H7.600" stroke="#1a1a1a" stroke-width="1.050"/></pattern><pattern id="hb2" patternUnits="userSpaceOnUse" width="7.600" height="11" patternTransform="skewY(-38.700)"><rect width="7.600" height="11" fill="#d66cc6"/><path d="M0 5.500H7.600" stroke="#1a1a1a" stroke-width="1.050"/></pattern><pattern id="hb3" patternUnits="userSpaceOnUse" width="7.600" height="11" patternTransform="skewY(-38.700)"><rect width="7.600" height="11" fill="#bdbd2c"/><path d="M0 5.500H7.600" stroke="#1a1a1a" stroke-width="1.050"/></pattern><pattern id="hb4" patternUnits="userSpaceOnUse" width="7.600" height="11" patternTransform="skewY(-38.700)"><rect width="7.600" height="11" fill="#8e63bd"/><path d="M0 5.500H7.600" stroke="#1a1a1a" stroke-width="1.050"/></pattern><pattern id="hleg" patternUnits="userSpaceOnUse" width="7.600" height="11" patternTransform="skewY(-38.700)"><rect width="7.600" height="11" fill="#b9b9be"/><path d="M0 5.500H7.600" stroke="#1a1a1a" stroke-width="1.050"/></pattern></defs><rect x="128" y="2537.8" width="249.0" height="242.8" fill="#eaeaf2"/><rect x="138.22" y="2585.55" width="15.13" height="195.05" fill="#b3c7e8" stroke="#3a3a3a" stroke-width="0.700"/><rect x="153.34" y="2585.55" width="15.13" height="195.05" fill="url(#ha0)" stroke="#2a2a2a" stroke-width="0.700"/><path d="M145.78 2582.31V2588.79M160.91 2582.31V2588.79" stroke="#222" stroke-width="0.900"/><rect x="187.57" y="2611.45" width="15.13" height="169.15" fill="#f4bd7e" stroke="#3a3a3a" stroke-width="0.700"/><rect x="202.70" y="2594.45" width="15.13" height="186.15" fill="url(#ha1)" stroke="#2a2a2a" stroke-width="0.700"/><path d="M195.14 2609.83V2613.07M210.26 2591.22V2597.69" stroke="#222" stroke-width="0.900"/><rect x="236.93" y="2616.31" width="15.13" height="164.29" fill="#bf9d95" stroke="#3a3a3a" stroke-width="0.700"/><rect x="252.06" y="2596.88" width="15.13" height="183.72" fill="url(#ha2)" stroke="#2a2a2a" stroke-width="0.700"/><path d="M244.49 2613.47V2619.14M259.62 2594.45V2599.31" stroke="#222" stroke-width="0.900"/><rect x="286.28" y="2645.04" width="15.13" height="135.56" fill="#f09a98" stroke="#3a3a3a" stroke-width="0.700"/><rect x="301.41" y="2630.87" width="15.13" height="149.73" fill="url(#ha3)" stroke="#2a2a2a" stroke-width="0.700"/><path d="M293.85 2643.42V2646.66M308.98 2627.64V2634.11" stroke="#222" stroke-width="0.900"/><rect x="335.64" y="2686.72" width="15.13" height="93.88" fill="#a6dae4" stroke="#3a3a3a" stroke-width="0.700"/><rect x="350.77" y="2656.77" width="15.13" height="123.83" fill="url(#ha4)" stroke="#2a2a2a" stroke-width="0.700"/><path d="M343.20 2683.88V2689.55M358.33 2653.53V2660.01" stroke="#222" stroke-width="0.900"/><g font-size="12.300" fill="#3a3a3a" text-anchor="end"><text x="126" y="2785.0">65</text><text x="126" y="2744.5">70</text><text x="126" y="2704.1">75</text><text x="126" y="2663.6">80</text><text x="126" y="2623.1">85</text><text x="126" y="2582.7">90</text></g><g font-size="13.400" font-weight="bold" fill="#2b2b2b" text-anchor="middle"><text x="154.0" y="2568.5">Supervised</text><text x="203.0" y="2581.5">PRODEN</text><text x="252.5" y="2583.5">POP</text><text x="301.8" y="2617.7">SCL-NL</text><text x="351.0" y="2643.5">L-W</text></g><rect x="269.5" y="2549.700" width="27.300" height="9.300" fill="#e1e1e6" stroke="#9a9a9a" stroke-width="0.700"/><rect x="269.5" y="2568.600" width="27.300" height="9.300" fill="url(#hleg)" stroke="#8a8a8a" stroke-width="0.700"/><g font-size="13.500" fill="#444"><text x="307.7" y="2559.300">Validation</text><text x="307.7" y="2578.200">Training</text></g><text transform="translate(102.1,2659) rotate(-90)" text-anchor="middle" font-size="16" font-weight="bold" fill="#000">Accuracy</text><text x="236.5" y="2825.300" text-anchor="middle" font-family="'Liberation Serif',serif" font-size="27.800" fill="#000" xml:space="preserve">(a)  Aggregate</text><rect x="440.1" y="2537.8" width="249.3" height="242.8" fill="#eaeaf2"/><rect x="450.33" y="2564.99" width="15.15" height="215.61" fill="#b3c7e8" stroke="#3a3a3a" stroke-width="0.700"/><rect x="465.47" y="2566.45" width="15.15" height="214.15" fill="url(#hb0)" stroke="#2a2a2a" stroke-width="0.700"/><path d="M457.90 2564.27V2565.72M473.05 2565.72V2567.18" stroke="#222" stroke-width="0.900"/><rect x="499.74" y="2687.36" width="15.15" height="93.24" fill="#a9de8d" stroke="#3a3a3a" stroke-width="0.700"/><rect x="514.89" y="2663.57" width="15.15" height="117.03" fill="url(#hb1)" stroke="#2a2a2a" stroke-width="0.700"/><path d="M507.32 2684.45V2690.28M522.46 2658.23V2668.91" stroke="#222" stroke-width="0.900"/><rect x="549.16" y="2687.36" width="15.15" height="93.24" fill="#e9b3d5" stroke="#3a3a3a" stroke-width="0.700"/><rect x="564.31" y="2678.14" width="15.15" height="102.46" fill="url(#hb2)" stroke="#2a2a2a" stroke-width="0.700"/><path d="M556.73 2686.15V2688.58M571.88 2677.17V2679.11" stroke="#222" stroke-width="0.900"/><rect x="598.57" y="2730.10" width="15.15" height="50.50" fill="#dcdc8f" stroke="#3a3a3a" stroke-width="0.700"/><rect x="613.72" y="2692.71" width="15.15" height="87.89" fill="url(#hb3)" stroke="#2a2a2a" stroke-width="0.700"/><path d="M606.15 2727.18V2733.01M621.29 2688.34V2697.08" stroke="#222" stroke-width="0.900"/><rect x="647.99" y="2669.40" width="15.15" height="111.20" fill="#c2b0d6" stroke="#3a3a3a" stroke-width="0.700"/><rect x="663.14" y="2653.37" width="15.15" height="127.23" fill="url(#hb4)" stroke="#2a2a2a" stroke-width="0.700"/><path d="M655.56 2667.70V2671.10M670.71 2650.94V2655.80" stroke="#222" stroke-width="0.900"/><g font-size="12.300" fill="#3a3a3a" text-anchor="end"><text x="437.5" y="2785.0">45</text><text x="437.5" y="2736.4">55</text><text x="437.5" y="2687.9">65</text><text x="437.5" y="2639.3">75</text><text x="437.5" y="2590.8">85</text></g><g font-size="13.400" font-weight="bold" fill="#2b2b2b" text-anchor="middle"><text x="465.7" y="2556.8">Supervised</text><text x="515.5" y="2653.6">CAVL</text><text x="564.2" y="2667.8">EXP</text><text x="613.9" y="2682.9">ABS-MAE</text><text x="663.0" y="2644.0">PC</text></g><rect x="581.4" y="2549.700" width="27.300" height="9.300" fill="#e1e1e6" stroke="#9a9a9a" stroke-width="0.700"/><rect x="581.4" y="2568.600" width="27.300" height="9.300" fill="url(#hleg)" stroke="#8a8a8a" stroke-width="0.700"/><g font-size="13.500" fill="#444"><text x="619.6" y="2559.300">Validation</text><text x="619.6" y="2578.200">Training</text></g><text transform="translate(413.8,2659) rotate(-90)" text-anchor="middle" font-size="16" font-weight="bold" fill="#000">Accuracy</text><text x="548.1" y="2825.300" text-anchor="middle" font-family="'Liberation Serif',serif" font-size="27.800" fill="#000" xml:space="preserve">(b)  Vaguest</text><rect x="754" y="2537.8" width="247.0" height="242.8" fill="#eaeaf2"/><path d="M758.6 2538.8V2780.6M994.8 2538.8V2780.6" stroke="#333" stroke-width="1.300" stroke-dasharray="1.500 3.300" fill="none"/><path d="M758.6 2583.26L994.8 2633.81" stroke="#8c0b52" stroke-width="4.600" stroke-linecap="round"/><circle cx="758.6" cy="2583.26" r="3.500" fill="#8c0b52"/><circle cx="994.8" cy="2633.81" r="3.500" fill="#8c0b52"/><path d="M758.6 2559.56L994.8 2586.17" stroke="#e1733f" stroke-width="4.600" stroke-linecap="round"/><circle cx="758.6" cy="2559.56" r="3.500" fill="#e1733f"/><circle cx="994.8" cy="2586.17" r="3.500" fill="#e1733f"/><path d="M758.6 2573.83L994.8 2754.00" stroke="#fbd380" stroke-width="4.600" stroke-linecap="round"/><circle cx="758.6" cy="2573.83" r="3.500" fill="#fbd380"/><circle cx="994.8" cy="2754.00" r="3.500" fill="#fbd380"/><path d="M758.6 2559.32L994.8 2726.43" stroke="#eefb89" stroke-width="4.600" stroke-linecap="round"/><circle cx="758.6" cy="2559.32" r="3.500" fill="#eefb89"/><circle cx="994.8" cy="2726.43" r="3.500" fill="#eefb89"/><path d="M758.6 2554.49L994.8 2661.38" stroke="#80c8a2" stroke-width="4.600" stroke-linecap="round"/><circle cx="758.6" cy="2554.49" r="3.500" fill="#80c8a2"/><circle cx="994.8" cy="2661.38" r="3.500" fill="#80c8a2"/><g font-size="12.300" fill="#3a3a3a" text-anchor="end"><text x="749.8" y="2785.0">48</text><text x="749.8" y="2736.6">50</text><text x="749.8" y="2688.3">52</text><text x="749.8" y="2639.9">54</text><text x="749.8" y="2591.5">56</text><text x="749.8" y="2543.2">58</text></g><path d="M763.5 2685.8h28.700" stroke="#8c0b52" stroke-width="4.600" stroke-linecap="round"/><circle cx="777.8" cy="2685.8" r="3.500" fill="#8c0b52"/><text x="802.0" y="2690.5" font-size="13.500" fill="#444">PRODEN</text><path d="M763.5 2704.7h28.700" stroke="#e1733f" stroke-width="4.600" stroke-linecap="round"/><circle cx="777.8" cy="2704.7" r="3.500" fill="#e1733f"/><text x="802.0" y="2709.4" font-size="13.500" fill="#444">RC</text><path d="M763.5 2723.6h28.700" stroke="#fbd380" stroke-width="4.600" stroke-linecap="round"/><circle cx="777.8" cy="2723.6" r="3.500" fill="#fbd380"/><text x="802.0" y="2728.3" font-size="13.500" fill="#444">CC</text><path d="M763.5 2742.5h28.700" stroke="#eefb89" stroke-width="4.600" stroke-linecap="round"/><circle cx="777.8" cy="2742.5" r="3.500" fill="#eefb89"/><text x="802.0" y="2747.2" font-size="13.500" fill="#444">LWS</text><path d="M763.5 2761.4h28.700" stroke="#80c8a2" stroke-width="4.600" stroke-linecap="round"/><circle cx="777.8" cy="2761.4" r="3.500" fill="#80c8a2"/><text x="802.0" y="2766.1" font-size="13.500" fill="#444">CAVL</text><g font-size="16" font-weight="bold" fill="#2b2b2b"><text x="762.4" y="2542.600">Paper A</text><text x="991" y="2542.600" text-anchor="end">Paper B</text></g><text transform="translate(726.6,2659) rotate(-90)" text-anchor="middle" font-size="16" font-weight="bold" fill="#000">Accuracy</text><text x="859.8" y="2825.300" text-anchor="middle" font-family="'Liberation Serif',serif" font-size="27.800" fill="#000" xml:space="preserve">(c)  Soccer Player</text><rect x="1064.9" y="2537.8" width="248.0" height="242.8" fill="#eaeaf2"/><path d="M1070.7 2538.8V2780.6M1306.7 2538.8V2780.6" stroke="#333" stroke-width="1.300" stroke-dasharray="1.500 3.300" fill="none"/><path d="M1070.7 2561.43L1306.7 2581.00" stroke="#8c0b52" stroke-width="4.600" stroke-linecap="round"/><circle cx="1070.7" cy="2561.43" r="3.500" fill="#8c0b52"/><circle cx="1306.7" cy="2581.00" r="3.500" fill="#8c0b52"/><path d="M1070.7 2559.34L1306.7 2609.90" stroke="#e1733f" stroke-width="4.600" stroke-linecap="round"/><circle cx="1070.7" cy="2559.34" r="3.500" fill="#e1733f"/><circle cx="1306.7" cy="2609.90" r="3.500" fill="#e1733f"/><path d="M1070.7 2571.21L1306.7 2704.54" stroke="#fbd380" stroke-width="4.600" stroke-linecap="round"/><circle cx="1070.7" cy="2571.21" r="3.500" fill="#fbd380"/><circle cx="1306.7" cy="2704.54" r="3.500" fill="#fbd380"/><path d="M1070.7 2560.77L1306.7 2778.07" stroke="#eefb89" stroke-width="4.600" stroke-linecap="round"/><circle cx="1070.7" cy="2560.77" r="3.500" fill="#eefb89"/><circle cx="1306.7" cy="2778.07" r="3.500" fill="#eefb89"/><path d="M1070.7 2550.99L1306.7 2637.71" stroke="#80c8a2" stroke-width="4.600" stroke-linecap="round"/><circle cx="1070.7" cy="2550.99" r="3.500" fill="#80c8a2"/><circle cx="1306.7" cy="2637.71" r="3.500" fill="#80c8a2"/><g font-size="12.300" fill="#3a3a3a" text-anchor="end"><text x="1060.9" y="2785.0">48</text><text x="1060.9" y="2741.0">52</text><text x="1060.9" y="2697.1">56</text><text x="1060.9" y="2653.1">60</text><text x="1060.9" y="2609.1">64</text><text x="1060.9" y="2565.2">68</text></g><path d="M1075.4 2685.8h28.700" stroke="#8c0b52" stroke-width="4.600" stroke-linecap="round"/><circle cx="1089.7" cy="2685.8" r="3.500" fill="#8c0b52"/><text x="1113.9" y="2690.5" font-size="13.500" fill="#444">PRODEN</text><path d="M1075.4 2704.7h28.700" stroke="#e1733f" stroke-width="4.600" stroke-linecap="round"/><circle cx="1089.7" cy="2704.7" r="3.500" fill="#e1733f"/><text x="1113.9" y="2709.4" font-size="13.500" fill="#444">RC</text><path d="M1075.4 2723.6h28.700" stroke="#fbd380" stroke-width="4.600" stroke-linecap="round"/><circle cx="1089.7" cy="2723.6" r="3.500" fill="#fbd380"/><text x="1113.9" y="2728.3" font-size="13.500" fill="#444">CC</text><path d="M1075.4 2742.5h28.700" stroke="#eefb89" stroke-width="4.600" stroke-linecap="round"/><circle cx="1089.7" cy="2742.5" r="3.500" fill="#eefb89"/><text x="1113.9" y="2747.2" font-size="13.500" fill="#444">LWS</text><path d="M1075.4 2761.4h28.700" stroke="#80c8a2" stroke-width="4.600" stroke-linecap="round"/><circle cx="1089.7" cy="2761.4" r="3.500" fill="#80c8a2"/><text x="1113.9" y="2766.1" font-size="13.500" fill="#444">CAVL</text><g font-size="16" font-weight="bold" fill="#2b2b2b"><text x="1074" y="2542.600">Paper A</text><text x="1302.5" y="2542.600" text-anchor="end">Paper B</text></g><text transform="translate(1037.8999999999999,2659) rotate(-90)" text-anchor="middle" font-size="16" font-weight="bold" fill="#000">Accuracy</text><text x="1171.2" y="2825.300" text-anchor="middle" font-family="'Liberation Serif',serif" font-size="27.800" fill="#000" xml:space="preserve">(d)  Yahoo! News</text></svg>
<div class="t" style="left:1420.0px;top:515.84px;font-size:55.5px;line-height:63.85px;"><span class="s" style="font-family:'Noto Sans CJK JP','Liberation Sans',sans-serif;font-weight:400;-webkit-text-stroke:0.75px #e57b76">③</span></div>
<div class="t" style="left:1493.0px;top:515.99px;font-size:53.05px;line-height:63.85px;"><span class="sb">Lack of real-world image datasets</span>: Existing<br>work has mainly conducted experiments on<br>synthetic datasets, which may not reveal real-<br>world annotation patterns of partial labels.</div>
<svg class="ab" style="left:1427.3px;top:1000.5px" width="35" height="39" viewBox="0 0 35 39"><path d="M0.5 0.8 L34 19.3 L0.5 38 L9.8 19.3 Z" fill="#000"/><path d="M3.6 4.6 L28.6 18.5 L11.2 18.5 Z" fill="#fff"/></svg>
<div class="t" style="left:1470.5px;top:988.69px;font-size:53.05px;line-height:63.85px;">We systematically investigate model selection<br>problems for PLL for the first time and propose<br>new model selection criteria.</div>
<svg class="ab" style="left:1427.3px;top:1192.0px" width="35" height="39" viewBox="0 0 35 39"><path d="M0.5 0.8 L34 19.3 L0.5 38 L9.8 19.3 Z" fill="#e57b76"/><path d="M3.6 4.6 L28.6 18.5 L11.2 18.5 Z" fill="#fff"/></svg>
<div class="t" style="left:1470.5px;top:1180.19px;font-size:53.05px;line-height:63.85px;"><span class="s">Metric 1</span>: Covering Rate (CR)</div>
<svg class="abs" style="left:1470px;top:1250px;font-kerning:none" width="1140" height="180" viewBox="1470 1250 1140 180"><text transform="translate(1475.26,1354.90) scale(1.057,1.000)" font-family="'Liberation Serif',serif" font-size="55.91">CR</text><text transform="translate(1555.90,1354.90) scale(0.862,1.000)" font-family="'Liberation Serif',serif" font-size="55.91">(</text><text transform="translate(1578.62,1354.90) scale(1.150,1.000)" font-family="'Liberation Serif',serif" font-size="55.91" font-style="italic" font-weight="bold">f</text><text transform="translate(1610.68,1354.90) scale(0.915,1.000)" font-family="'Liberation Serif',serif" font-size="55.91">)</text><text transform="translate(1643.01,1361.19) scale(1.408,0.868)" font-family="'Liberation Serif',serif" font-size="55.91">=</text><rect x="1707.6" y="1340.8" width="94.7" height="1.700"/><text transform="translate(1741.99,1318.31) scale(0.860,1.000)" font-family="'Liberation Serif',serif" font-size="55.91">1</text><text transform="translate(1706.83,1391.57) scale(1.150,1.000)" font-family="'Liberation Serif',serif" font-size="55.91" font-style="italic">n</text><text transform="translate(1741.21,1376.41) scale(1.028,1.000)" font-family="'Liberation Serif',serif" font-size="39.14">Val</text><text transform="translate(1816.10,1360.81) scale(0.858,0.700)" font-family="'DejaVu Math TeX Gyre','DejaVu Serif',serif" font-size="100.64">∑</text><text transform="translate(1819.59,1288.00) scale(1.150,1.000)" font-family="'Liberation Serif',serif" font-size="39.14" font-style="italic">n</text><text transform="translate(1844.85,1272.84) scale(1.247,1.000)" font-family="'Liberation Serif',serif" font-size="27.95">Val</text><text transform="translate(1823.12,1416.83) scale(1.110,1.000)" font-family="'Liberation Serif',serif" font-size="39.14" font-style="italic">i</text><text transform="translate(1836.16,1420.70) scale(1.415,0.852)" font-family="'Liberation Serif',serif" font-size="39.14">=</text><text transform="translate(1870.00,1416.83) scale(1.100,1.000)" font-family="'Liberation Serif',serif" font-size="39.14">1</text><text transform="translate(1904.76,1354.94) scale(0.904,0.849)" font-family="'DejaVu Serif',serif" font-size="55.91">𝕀</text><path d="M1974.1 1278.5 C1948.7 1303.7 1948.7 1379.2 1974.1 1404.4 L1973.3 1405.0 C1943.3 1381.7 1943.3 1301.2 1973.3 1277.9 Z" fill="#000"/><text transform="translate(1975.02,1354.90) scale(1.018,1.000)" font-family="'Liberation Serif',serif" font-size="55.91">arg</text><text transform="translate(2057.25,1354.90) scale(1.035,1.000)" font-family="'Liberation Serif',serif" font-size="55.91">max</text><text transform="translate(2060.94,1398.73) scale(0.945,0.925)" font-family="'Liberation Serif',serif" font-size="39.14" font-style="italic">j</text><text transform="translate(2186.89,1354.90) scale(1.150,1.000)" font-family="'Liberation Serif',serif" font-size="55.91" font-style="italic">f</text><text transform="translate(2214.76,1362.75) scale(1.113,0.908)" font-family="'Liberation Serif',serif" font-size="39.14" font-style="italic">j</text><text transform="translate(2233.88,1354.90) scale(0.928,1.000)" font-family="'Liberation Serif',serif" font-size="55.91">(</text><text transform="translate(2254.71,1354.90) scale(1.140,1.000)" font-family="'Liberation Serif',serif" font-size="55.91" font-style="italic" font-weight="bold">x</text><text transform="translate(2288.13,1365.87) scale(1.150,1.000)" font-family="'Liberation Serif',serif" font-size="39.14" font-style="italic">i</text><text transform="translate(2287.53,1333.29) scale(1.045,1.000)" font-family="'Liberation Serif',serif" font-size="39.14">Val</text><text transform="translate(2351.48,1354.90) scale(0.928,1.000)" font-family="'Liberation Serif',serif" font-size="55.91">)</text><text transform="translate(2384.82,1358.47) scale(0.902,0.845)" font-family="'DejaVu Serif',serif" font-size="55.91">∈</text><text transform="translate(2438.65,1354.90) scale(1.150,1.000)" font-family="'Liberation Serif',serif" font-size="55.91" font-style="italic">S</text><text transform="translate(2470.27,1365.87) scale(1.150,1.000)" font-family="'Liberation Serif',serif" font-size="39.14" font-style="italic">i</text><text transform="translate(2472.64,1333.29) scale(1.045,1.000)" font-family="'Liberation Serif',serif" font-size="39.14">Val</text><path d="M2535.3 1278.5 C2560.6 1303.7 2560.6 1379.2 2535.3 1404.4 L2536.1 1405.0 C2566.0 1381.7 2566.0 1301.2 2536.1 1277.9 Z" fill="#000"/><text transform="translate(2582.60,1354.90) scale(0.986,1.000)" font-family="'Liberation Serif',serif" font-size="55.91">.</text></svg>
<svg class="ab" style="left:1427.3px;top:1447.5px" width="35" height="39" viewBox="0 0 35 39"><path d="M0.5 0.8 L34 19.3 L0.5 38 L9.8 19.3 Z" fill="#000"/><path d="M3.6 4.6 L28.6 18.5 L11.2 18.5 Z" fill="#fff"/></svg>
<div class="t" style="left:1470.5px;top:1435.69px;font-size:53.05px;line-height:63.85px;">CR calculates the fraction of validation data where<br>the candidate label set contains the predicted<br>label.</div>
<svg class="ab" style="left:1427.3px;top:1639.0px" width="35" height="39" viewBox="0 0 35 39"><path d="M0.5 0.8 L34 19.3 L0.5 38 L9.8 19.3 Z" fill="#000"/><path d="M3.6 4.6 L28.6 18.5 L11.2 18.5 Z" fill="#fff"/></svg>
<div class="t" style="left:1470.5px;top:1627.19px;font-size:53.05px;line-height:63.85px;">CR is biased but <span class="s">provably consistent</span>, where a<br>classifier with a higher CR has a higher expected<br>accuracy under certain assumptions.</div>
<svg class="ab" style="left:1427.3px;top:1830.5px" width="35" height="39" viewBox="0 0 35 39"><path d="M0.5 0.8 L34 19.3 L0.5 38 L9.8 19.3 Z" fill="#e57b76"/><path d="M3.6 4.6 L28.6 18.5 L11.2 18.5 Z" fill="#fff"/></svg>
<div class="t" style="left:1470.5px;top:1818.69px;font-size:53.05px;line-height:63.85px;"><span class="s">Metric 2</span>: Approximated Accuracy (AA)</div>
<svg class="abs" style="left:1445px;top:1905px;font-kerning:none" width="1180" height="160" viewBox="1445 1905 1180 160"><text transform="translate(1455.31,1990.20) scale(0.913,1.000)" font-family="'Liberation Serif',serif" font-size="41.72">AA</text><text transform="translate(1513.39,1990.20) scale(0.878,1.000)" font-family="'Liberation Serif',serif" font-size="41.72">(</text><text transform="translate(1532.33,1990.20) scale(1.150,1.000)" font-family="'Liberation Serif',serif" font-size="41.72" font-style="italic" font-weight="bold">f</text><text transform="translate(1554.36,1990.20) scale(0.854,1.000)" font-family="'Liberation Serif',serif" font-size="41.72">)</text><text transform="translate(1577.59,1991.55) scale(1.319,0.827)" font-family="'Liberation Serif',serif" font-size="41.72">=</text><rect x="1624.2" y="1977.6" width="68.5" height="1.500"/><text transform="translate(1648.41,1962.19) scale(0.890,1.000)" font-family="'Liberation Serif',serif" font-size="41.72">1</text><text transform="translate(1623.35,2014.98) scale(1.150,1.000)" font-family="'Liberation Serif',serif" font-size="41.72" font-style="italic">n</text><text transform="translate(1648.73,2003.22) scale(1.013,1.000)" font-family="'Liberation Serif',serif" font-size="29.21">Val</text><text transform="translate(1701.41,1992.77) scale(0.856,0.696)" font-family="'DejaVu Math TeX Gyre','DejaVu Serif',serif" font-size="75.10">∑</text><text transform="translate(1705.17,1939.72) scale(1.150,1.000)" font-family="'Liberation Serif',serif" font-size="29.21" font-style="italic">n</text><text transform="translate(1724.57,1927.44) scale(1.171,1.000)" font-family="'Liberation Serif',serif" font-size="20.86">Val</text><text transform="translate(1707.34,2034.58) scale(1.150,1.000)" font-family="'Liberation Serif',serif" font-size="29.21" font-style="italic">i</text><text transform="translate(1717.02,2037.42) scale(1.423,0.859)" font-family="'Liberation Serif',serif" font-size="29.21">=</text><text transform="translate(1741.63,2034.58) scale(1.093,1.000)" font-family="'Liberation Serif',serif" font-size="29.21">1</text><text transform="translate(1785.89,1992.77) scale(0.843,0.696)" font-family="'DejaVu Math TeX Gyre','DejaVu Serif',serif" font-size="75.10">∑</text><text transform="translate(1771.38,2038.91) scale(0.844,0.859)" font-family="'Liberation Serif',serif" font-size="29.21" font-style="italic">j</text><text transform="translate(1776.20,2040.59) scale(1.389,0.856)" font-family="'DejaVu Serif',serif" font-size="29.21">∈</text><text transform="translate(1806.41,2040.33) scale(1.150,1.000)" font-family="'Liberation Serif',serif" font-size="29.21" font-style="italic">S</text><text transform="translate(1824.43,2047.91) scale(1.150,1.000)" font-family="'Liberation Serif',serif" font-size="20.86" font-style="italic">i</text><text transform="translate(1825.96,2029.35) scale(1.171,1.000)" font-family="'Liberation Serif',serif" font-size="20.86">Val</text><rect x="1875.3" y="1977.8" width="285.4" height="1.500"/><text transform="translate(1953.07,1966.92) scale(1.150,1.000)" font-family="'Liberation Serif',serif" font-size="41.72" font-style="italic">f</text><text transform="translate(1972.41,1969.63) scale(0.968,0.931)" font-family="'Liberation Serif',serif" font-size="29.21" font-style="italic">j</text><text transform="translate(1987.35,1966.92) scale(0.951,1.000)" font-family="'Liberation Serif',serif" font-size="41.72">(</text><text transform="translate(2003.46,1966.92) scale(1.150,1.000)" font-family="'Liberation Serif',serif" font-size="41.72" font-style="italic" font-weight="bold">x</text><text transform="translate(2025.45,1972.02) scale(1.150,1.000)" font-family="'Liberation Serif',serif" font-size="29.21" font-style="italic">i</text><text transform="translate(2026.14,1947.56) scale(0.988,1.000)" font-family="'Liberation Serif',serif" font-size="29.21">Val</text><text transform="translate(2071.05,1966.92) scale(0.951,1.000)" font-family="'Liberation Serif',serif" font-size="41.72">)</text><text transform="translate(1872.36,2017.69) scale(0.901,0.775)" font-family="'DejaVu Math TeX Gyre','DejaVu Serif',serif" font-size="50.07">∑</text><text transform="translate(1915.98,2027.40) scale(0.893,1.000)" font-family="'Liberation Serif',serif" font-size="29.21" font-style="italic">k</text><text transform="translate(1926.98,2028.41) scale(1.189,0.761)" font-family="'DejaVu Serif',serif" font-size="29.21">∈</text><text transform="translate(1953.59,2027.73) scale(1.150,1.000)" font-family="'Liberation Serif',serif" font-size="29.21" font-style="italic">S</text><text transform="translate(1972.72,2035.89) scale(1.150,1.000)" font-family="'Liberation Serif',serif" font-size="20.86" font-style="italic">i</text><text transform="translate(1973.52,2018.90) scale(1.210,1.000)" font-family="'Liberation Serif',serif" font-size="20.86">Val</text><text transform="translate(2025.26,2021.62) scale(1.150,1.000)" font-family="'Liberation Serif',serif" font-size="41.72" font-style="italic">f</text><text transform="translate(2042.65,2026.38) scale(0.947,1.000)" font-family="'Liberation Serif',serif" font-size="29.21" font-style="italic">k</text><text transform="translate(2060.39,2021.62) scale(0.951,1.000)" font-family="'Liberation Serif',serif" font-size="41.72">(</text><text transform="translate(2076.50,2021.62) scale(1.150,1.000)" font-family="'Liberation Serif',serif" font-size="41.72" font-style="italic" font-weight="bold">x</text><text transform="translate(2099.85,2027.40) scale(1.150,1.000)" font-family="'Liberation Serif',serif" font-size="29.21" font-style="italic">i</text><text transform="translate(2102.58,2001.92) scale(0.988,1.000)" font-family="'Liberation Serif',serif" font-size="29.21">Val</text><text transform="translate(2146.46,2021.62) scale(0.951,1.000)" font-family="'Liberation Serif',serif" font-size="41.72">)</text><text transform="translate(2164.05,1987.65) scale(0.868,0.849)" font-family="'DejaVu Serif',serif" font-size="41.72">𝕀</text><path d="M2215.0 1932.3 C2195.6 1951.0 2195.6 2007.0 2215.0 2025.7 L2214.2 2026.3 C2191.6 2008.9 2191.6 1949.1 2214.2 1931.7 Z" fill="#000"/><text transform="translate(2214.54,1987.65) scale(1.012,1.000)" font-family="'Liberation Serif',serif" font-size="41.72">arg</text><text transform="translate(2276.31,1987.65) scale(0.984,1.000)" font-family="'Liberation Serif',serif" font-size="41.72">max</text><text transform="translate(2276.93,2020.60) scale(1.033,1.000)" font-family="'Liberation Serif',serif" font-size="29.21" font-style="italic">l</text><text transform="translate(2368.88,1987.65) scale(1.150,1.000)" font-family="'Liberation Serif',serif" font-size="41.72" font-style="italic">f</text><text transform="translate(2385.64,1993.42) scale(1.033,1.000)" font-family="'Liberation Serif',serif" font-size="29.21" font-style="italic">l</text><text transform="translate(2398.41,1987.65) scale(0.951,1.000)" font-family="'Liberation Serif',serif" font-size="41.72">(</text><text transform="translate(2414.18,1987.65) scale(1.150,1.000)" font-family="'Liberation Serif',serif" font-size="41.72" font-style="italic" font-weight="bold">x</text><text transform="translate(2436.51,1996.82) scale(1.150,1.000)" font-family="'Liberation Serif',serif" font-size="29.21" font-style="italic">i</text><text transform="translate(2438.21,1967.94) scale(1.005,1.000)" font-family="'Liberation Serif',serif" font-size="29.21">Val</text><text transform="translate(2483.13,1987.65) scale(0.951,1.000)" font-family="'Liberation Serif',serif" font-size="41.72">)</text><text transform="translate(2507.29,1992.81) scale(1.575,0.912)" font-family="'Liberation Serif',serif" font-size="41.72">=</text><text transform="translate(2554.17,1990.35) scale(1.017,0.996)" font-family="'Liberation Serif',serif" font-size="41.72" font-style="italic">j</text><path d="M2570.0 1932.3 C2589.4 1951.0 2589.4 2007.0 2570.0 2025.7 L2570.8 2026.3 C2593.4 2008.9 2593.4 1949.1 2570.8 1931.7 Z" fill="#000"/><text transform="translate(2601.63,1987.65) scale(1.102,1.000)" font-family="'Liberation Serif',serif" font-size="41.72">.</text></svg>
<svg class="ab" style="left:1427.3px;top:2086.0px" width="35" height="39" viewBox="0 0 35 39"><path d="M0.5 0.8 L34 19.3 L0.5 38 L9.8 19.3 Z" fill="#000"/><path d="M3.6 4.6 L28.6 18.5 L11.2 18.5 Z" fill="#fff"/></svg>
<div class="t" style="left:1470.5px;top:2074.19px;font-size:53.05px;line-height:63.85px;">AA can approximate expected accuracy under<br>milder data distribution assumptions. However,<br>performance depends heavily on the accuracy of<br>the probabilistic model output.</div>
<svg class="ab" style="left:1427.3px;top:2341.0px" width="35" height="39" viewBox="0 0 35 39"><path d="M0.5 0.8 L34 19.3 L0.5 38 L9.8 19.3 Z" fill="#e57b76"/><path d="M3.6 4.6 L28.6 18.5 L11.2 18.5 Z" fill="#fff"/></svg>
<div class="t" style="left:1470.5px;top:2329.19px;font-size:53.05px;line-height:63.85px;"><span class="s">Metric 3</span>: Oracle Accuracy (OA)</div>
<svg class="abs" style="left:1475px;top:2400px;font-kerning:none" width="1140" height="180" viewBox="1475 2400 1140 180"><text transform="translate(1483.00,2505.20) scale(0.987,1.000)" font-family="'Liberation Serif',serif" font-size="55.91">OA</text><text transform="translate(1565.86,2505.20) scale(0.850,1.000)" font-family="'Liberation Serif',serif" font-size="55.91">(</text><text transform="translate(1587.08,2505.20) scale(1.150,1.000)" font-family="'Liberation Serif',serif" font-size="55.91" font-style="italic" font-weight="bold">f</text><text transform="translate(1620.56,2505.20) scale(0.897,1.000)" font-family="'Liberation Serif',serif" font-size="55.91">)</text><text transform="translate(1653.25,2511.19) scale(1.359,0.868)" font-family="'Liberation Serif',serif" font-size="55.91">=</text><rect x="1717.2" y="2491.0" width="95.2" height="1.700"/><text transform="translate(1751.78,2468.82) scale(0.873,1.000)" font-family="'Liberation Serif',serif" font-size="55.91">1</text><text transform="translate(1716.56,2542.07) scale(1.150,1.000)" font-family="'Liberation Serif',serif" font-size="55.91" font-style="italic">n</text><text transform="translate(1751.32,2526.41) scale(1.028,1.000)" font-family="'Liberation Serif',serif" font-size="39.14">Val</text><text transform="translate(1825.65,2510.99) scale(0.865,0.693)" font-family="'DejaVu Math TeX Gyre','DejaVu Serif',serif" font-size="100.64">∑</text><text transform="translate(1829.32,2438.50) scale(1.150,1.000)" font-family="'Liberation Serif',serif" font-size="39.14" font-style="italic">n</text><text transform="translate(1854.96,2422.84) scale(1.228,1.000)" font-family="'Liberation Serif',serif" font-size="27.95">Val</text><text transform="translate(1833.22,2567.34) scale(1.110,1.000)" font-family="'Liberation Serif',serif" font-size="39.14" font-style="italic">i</text><text transform="translate(1846.27,2571.21) scale(1.415,0.852)" font-family="'Liberation Serif',serif" font-size="39.14">=</text><text transform="translate(1879.35,2567.34) scale(1.100,1.000)" font-family="'Liberation Serif',serif" font-size="39.14">1</text><text transform="translate(1914.86,2505.44) scale(0.904,0.849)" font-family="'DejaVu Serif',serif" font-size="55.91">𝕀</text><path d="M1982.9 2429.1 C1957.6 2454.4 1957.6 2530.5 1982.9 2555.9 L1982.1 2556.5 C1952.2 2533.0 1952.2 2451.9 1982.1 2428.5 Z" fill="#000"/><text transform="translate(1985.39,2505.20) scale(1.018,1.000)" font-family="'Liberation Serif',serif" font-size="55.91">arg</text><text transform="translate(2068.52,2505.20) scale(1.026,1.000)" font-family="'Liberation Serif',serif" font-size="55.91">max</text><text transform="translate(2070.60,2549.93) scale(0.859,1.000)" font-family="'Liberation Serif',serif" font-size="39.14" font-style="italic">l</text><text transform="translate(2197.70,2505.20) scale(1.150,1.000)" font-family="'Liberation Serif',serif" font-size="55.91" font-style="italic">f</text><text transform="translate(2221.05,2512.02) scale(0.859,1.000)" font-family="'Liberation Serif',serif" font-size="39.14" font-style="italic">l</text><text transform="translate(2239.96,2505.20) scale(0.866,1.000)" font-family="'Liberation Serif',serif" font-size="55.91">(</text><text transform="translate(2260.02,2505.20) scale(1.108,1.000)" font-family="'Liberation Serif',serif" font-size="55.91" font-style="italic" font-weight="bold">x</text><text transform="translate(2292.57,2517.35) scale(1.150,1.000)" font-family="'Liberation Serif',serif" font-size="39.14" font-style="italic">i</text><text transform="translate(2291.98,2483.29) scale(1.045,1.000)" font-family="'Liberation Serif',serif" font-size="39.14">Val</text><text transform="translate(2355.92,2505.20) scale(0.928,1.000)" font-family="'Liberation Serif',serif" font-size="55.91">)</text><text transform="translate(2387.75,2510.47) scale(1.400,0.890)" font-family="'Liberation Serif',serif" font-size="55.91">=</text><text transform="translate(2451.90,2504.63) scale(0.853,1.005)" font-family="'Liberation Serif',serif" font-size="55.91" font-style="italic">y</text><text transform="translate(2473.23,2517.35) scale(1.150,1.000)" font-family="'Liberation Serif',serif" font-size="39.14" font-style="italic">i</text><text transform="translate(2477.09,2483.29) scale(1.018,1.000)" font-family="'Liberation Serif',serif" font-size="39.14">Val</text><path d="M2539.7 2429.1 C2565.1 2454.4 2565.1 2530.5 2539.7 2555.9 L2540.5 2556.5 C2570.5 2533.0 2570.5 2451.9 2540.5 2428.5 Z" fill="#000"/><text transform="translate(2585.26,2505.20) scale(0.986,1.000)" font-family="'Liberation Serif',serif" font-size="55.91">.</text></svg>
<svg class="ab" style="left:1427.3px;top:2595.5px" width="35" height="39" viewBox="0 0 35 39"><path d="M0.5 0.8 L34 19.3 L0.5 38 L9.8 19.3 Z" fill="#000"/><path d="M3.6 4.6 L28.6 18.5 L11.2 18.5 Z" fill="#fff"/></svg>
<div class="t" style="left:1470.5px;top:2583.69px;font-size:53.05px;line-height:63.85px;">OA requires the knowledge of truth labels, which<br>may not be realistic. However, it may be a widely<br>used choice for many existing PLL works.</div>
<svg class="ab" style="left:2764.8px;top:624.5px" width="35" height="39" viewBox="0 0 35 39"><path d="M0.5 0.8 L34 19.3 L0.5 38 L9.8 19.3 Z" fill="#000"/><path d="M3.6 4.6 L28.6 18.5 L11.2 18.5 Z" fill="#fff"/></svg>
<div class="t" style="left:2806.5px;top:612.69px;font-size:53.05px;line-height:63.85px;">A new dataset with human-annotated partial<br>labels collected from the Amazon MTurk platform.</div>
<svg class="ab" style="left:2764.8px;top:752.0px" width="35" height="39" viewBox="0 0 35 39"><path d="M0.5 0.8 L34 19.3 L0.5 38 L9.8 19.3 Z" fill="#000"/><path d="M3.6 4.6 L28.6 18.5 L11.2 18.5 Z" fill="#fff"/></svg>
<div class="t" style="left:2806.5px;top:740.19px;font-size:53.05px;line-height:63.85px;">We asked 10 annotators to provided multiple<br>candidate labels for each image of CIFAR-10. In<br>summary, we collected 502,190 candidate label<br>sets with a total of 712,109 partial labels.</div>
<svg class="abs" style="left:2750px;top:995px" width="1240" height="325" viewBox="2750 995 1240 325" font-family="'Liberation Sans',sans-serif"><rect x="2808.9" y="1011.6" width="236.0" height="229.5" fill="#eaeaf2"/><rect x="2819.40" y="1104.77" width="17.82" height="136.37" fill="#8e0045" stroke="#6a6a6a" stroke-width="0.700"/><rect x="2841.30" y="1052.92" width="17.82" height="188.22" fill="#ba3f50" stroke="#6a6a6a" stroke-width="0.700"/><rect x="2863.20" y="1059.40" width="17.82" height="181.73" fill="#db7148" stroke="#6a6a6a" stroke-width="0.700"/><rect x="2885.10" y="1051.30" width="17.82" height="189.84" fill="#ebae66" stroke="#6a6a6a" stroke-width="0.700"/><rect x="2907.00" y="1055.35" width="17.82" height="185.79" fill="#f6dc8c" stroke="#6a6a6a" stroke-width="0.700"/><rect x="2928.90" y="1022.40" width="17.82" height="218.73" fill="#ffffbe" stroke="#6a6a6a" stroke-width="0.700"/><rect x="2950.80" y="1073.17" width="17.82" height="167.96" fill="#e8f399" stroke="#6a6a6a" stroke-width="0.700"/><rect x="2972.70" y="1053.19" width="17.82" height="187.95" fill="#b7dfa1" stroke="#6a6a6a" stroke-width="0.700"/><rect x="2994.60" y="1088.56" width="17.82" height="152.57" fill="#86c5a7" stroke="#6a6a6a" stroke-width="0.700"/><rect x="3016.50" y="1086.94" width="17.82" height="154.19" fill="#5688be" stroke="#6a6a6a" stroke-width="0.700"/><g font-size="11.800" fill="#3a3a3a" text-anchor="middle"><text x="2828.3" y="1251.9">0</text><text x="2850.2" y="1251.9">1</text><text x="2872.1" y="1251.9">2</text><text x="2894.0" y="1251.9">3</text><text x="2915.9" y="1251.9">4</text><text x="2937.8" y="1251.9">5</text><text x="2959.7" y="1251.9">6</text><text x="2981.6" y="1251.9">7</text><text x="3003.5" y="1251.9">8</text><text x="3025.4" y="1251.9">9</text></g><g font-size="11.800" fill="#3a3a3a" text-anchor="end"><text x="2807.2" y="1048.2">80k</text><text x="2807.2" y="1097.6">60k</text><text x="2807.2" y="1147.0">40k</text><text x="2807.2" y="1196.2">20k</text></g><text x="2926.7" y="1266.0" text-anchor="middle" font-size="15.200" font-weight="bold">Class Index</text><text transform="translate(2782.8,1126.4) rotate(-90)" text-anchor="middle" font-size="15.200" font-weight="bold">Count</text><text x="2908.5" y="1305.3" text-anchor="middle" font-family="'Liberation Serif',serif" font-size="26.8" fill="#000" xml:space="preserve">(a)  Class Distribution</text><rect x="3114.5" y="1009.7" width="237.1" height="231.4" fill="#eaeaf2"/><rect x="3125.08" y="1020.78" width="17.82" height="220.35" fill="#f2cb8e" stroke="#6a6a6a" stroke-width="0.700"/><rect x="3147.08" y="1165.52" width="17.82" height="75.61" fill="#e99d6f" stroke="#6a6a6a" stroke-width="0.700"/><rect x="3169.07" y="1210.35" width="17.82" height="30.78" fill="#df6b5b" stroke="#6a6a6a" stroke-width="0.700"/><rect x="3191.06" y="1225.74" width="17.82" height="15.39" fill="#c4485f" stroke="#6a6a6a" stroke-width="0.700"/><rect x="3213.06" y="1232.49" width="17.82" height="8.64" fill="#9a3678" stroke="#6a6a6a" stroke-width="0.700"/><rect x="3235.05" y="1235.73" width="17.82" height="5.40" fill="#6c2a85" stroke="#6a6a6a" stroke-width="0.700"/><rect x="3257.05" y="1237.62" width="17.82" height="3.51" fill="#4d2681" stroke="#6a6a6a" stroke-width="0.700"/><rect x="3279.04" y="1238.97" width="17.82" height="2.16" fill="#3a2373" stroke="#6a6a6a" stroke-width="0.700"/><rect x="3301.04" y="1239.51" width="17.82" height="1.62" fill="#2a1d5c" stroke="#6a6a6a" stroke-width="0.700"/><rect x="3323.03" y="1239.78" width="17.82" height="1.35" fill="#1f1745" stroke="#6a6a6a" stroke-width="0.700"/><g font-size="11.800" fill="#3a3a3a" text-anchor="middle"><text x="3134.0" y="1251.9">1</text><text x="3156.0" y="1251.9">2</text><text x="3178.0" y="1251.9">3</text><text x="3200.0" y="1251.9">4</text><text x="3222.0" y="1251.9">5</text><text x="3244.0" y="1251.9">6</text><text x="3266.0" y="1251.9">7</text><text x="3288.0" y="1251.9">8</text><text x="3309.9" y="1251.9">9</text><text x="3331.9" y="1251.9">10</text></g><g font-size="11.800" fill="#3a3a3a" text-anchor="end"><text x="3112.4" y="1022.0">0.25</text><text x="3112.4" y="1067.1">0.20</text><text x="3112.4" y="1111.9">0.15</text><text x="3112.4" y="1156.5">0.10</text><text x="3112.4" y="1201.3">0.05</text><text x="3112.4" y="1245.9">0.00</text></g><text x="3233.0" y="1266.0" text-anchor="middle" font-size="15.200" font-weight="bold"># Annotators</text><text transform="translate(3083.9,1125.0) rotate(-90)" text-anchor="middle" font-size="15.200" font-weight="bold">Noise Rate</text><text x="3212.0" y="1305.3" text-anchor="middle" font-family="'Liberation Serif',serif" font-size="26.8" fill="#000" xml:space="preserve">(b)  Noise Rate Distribution</text><rect x="3409.2" y="1003.0" width="243.5" height="237.3" fill="#f4f8e0"/><rect x="3409.45" y="1003.25" width="23.85" height="23.23" fill="#17215c"/><rect x="3433.80" y="1003.25" width="23.85" height="23.23" fill="#5897c4"/><rect x="3458.15" y="1003.25" width="23.85" height="23.23" fill="#72b5c4"/><rect x="3482.50" y="1003.25" width="23.85" height="23.23" fill="#cce8b4"/><rect x="3506.85" y="1003.25" width="23.85" height="23.23" fill="#c4e5b5"/><rect x="3531.20" y="1003.25" width="23.85" height="23.23" fill="#cce8b4"/><rect x="3555.55" y="1003.25" width="23.85" height="23.23" fill="#d0eab4"/><rect x="3579.90" y="1003.25" width="23.85" height="23.23" fill="#d9eeb4"/><rect x="3604.25" y="1003.25" width="23.85" height="23.23" fill="#61a2c4"/><rect x="3628.60" y="1003.25" width="23.85" height="23.23" fill="#8fcdb9"/><rect x="3409.45" y="1026.98" width="23.85" height="23.23" fill="#acdcba"/><rect x="3433.80" y="1026.98" width="23.85" height="23.23" fill="#16205a"/><rect x="3458.15" y="1026.98" width="23.85" height="23.23" fill="#eff8b5"/><rect x="3482.50" y="1026.98" width="23.85" height="23.23" fill="#d8eeb4"/><rect x="3506.85" y="1026.98" width="23.85" height="23.23" fill="#d9eeb4"/><rect x="3531.20" y="1026.98" width="23.85" height="23.23" fill="#ddf0b4"/><rect x="3555.55" y="1026.98" width="23.85" height="23.23" fill="#e6f4b5"/><rect x="3579.90" y="1026.98" width="23.85" height="23.23" fill="#e5f3b5"/><rect x="3604.25" y="1026.98" width="23.85" height="23.23" fill="#99d3b9"/><rect x="3628.60" y="1026.98" width="23.85" height="23.23" fill="#3d4ba1"/><rect x="3409.45" y="1050.71" width="23.85" height="23.23" fill="#e7f5b5"/><rect x="3433.80" y="1050.71" width="23.85" height="23.23" fill="#d9eeb4"/><rect x="3458.15" y="1050.71" width="23.85" height="23.23" fill="#17205b"/><rect x="3482.50" y="1050.71" width="23.85" height="23.23" fill="#568dc2"/><rect x="3506.85" y="1050.71" width="23.85" height="23.23" fill="#5a99c4"/><rect x="3531.20" y="1050.71" width="23.85" height="23.23" fill="#5e9dc4"/><rect x="3555.55" y="1050.71" width="23.85" height="23.23" fill="#5998c4"/><rect x="3579.90" y="1050.71" width="23.85" height="23.23" fill="#80c1bf"/><rect x="3604.25" y="1050.71" width="23.85" height="23.23" fill="#e6f4b5"/><rect x="3628.60" y="1050.71" width="23.85" height="23.23" fill="#f8fccd"/><rect x="3409.45" y="1074.44" width="23.85" height="23.23" fill="#f5fbc8"/><rect x="3433.80" y="1074.44" width="23.85" height="23.23" fill="#d7edb4"/><rect x="3458.15" y="1074.44" width="23.85" height="23.23" fill="#5897c4"/><rect x="3482.50" y="1074.44" width="23.85" height="23.23" fill="#17215c"/><rect x="3506.85" y="1074.44" width="23.85" height="23.23" fill="#568fc2"/><rect x="3531.20" y="1074.44" width="23.85" height="23.23" fill="#2f3590"/><rect x="3555.55" y="1074.44" width="23.85" height="23.23" fill="#60a0c4"/><rect x="3579.90" y="1074.44" width="23.85" height="23.23" fill="#6fb1c4"/><rect x="3604.25" y="1074.44" width="23.85" height="23.23" fill="#eaf6b5"/><rect x="3628.60" y="1074.44" width="23.85" height="23.23" fill="#f7fccb"/><rect x="3409.45" y="1098.17" width="23.85" height="23.23" fill="#f5fbc8"/><rect x="3433.80" y="1098.17" width="23.85" height="23.23" fill="#e2f2b5"/><rect x="3458.15" y="1098.17" width="23.85" height="23.23" fill="#6caec4"/><rect x="3482.50" y="1098.17" width="23.85" height="23.23" fill="#5897c4"/><rect x="3506.85" y="1098.17" width="23.85" height="23.23" fill="#17205b"/><rect x="3531.20" y="1098.17" width="23.85" height="23.23" fill="#4a63ad"/><rect x="3555.55" y="1098.17" width="23.85" height="23.23" fill="#72b5c4"/><rect x="3579.90" y="1098.17" width="23.85" height="23.23" fill="#4052a4"/><rect x="3604.25" y="1098.17" width="23.85" height="23.23" fill="#f0f9b9"/><rect x="3628.60" y="1098.17" width="23.85" height="23.23" fill="#f9fccf"/><rect x="3409.45" y="1121.90" width="23.85" height="23.23" fill="#f9fcce"/><rect x="3433.80" y="1121.90" width="23.85" height="23.23" fill="#e8f5b5"/><rect x="3458.15" y="1121.90" width="23.85" height="23.23" fill="#7ebfbf"/><rect x="3482.50" y="1121.90" width="23.85" height="23.23" fill="#3c4aa0"/><rect x="3506.85" y="1121.90" width="23.85" height="23.23" fill="#5999c4"/><rect x="3531.20" y="1121.90" width="23.85" height="23.23" fill="#16205a"/><rect x="3555.55" y="1121.90" width="23.85" height="23.23" fill="#88c7bc"/><rect x="3579.90" y="1121.90" width="23.85" height="23.23" fill="#77bac2"/><rect x="3604.25" y="1121.90" width="23.85" height="23.23" fill="#f3fac1"/><rect x="3628.60" y="1121.90" width="23.85" height="23.23" fill="#fdfed6"/><rect x="3409.45" y="1145.63" width="23.85" height="23.23" fill="#f6fccb"/><rect x="3433.80" y="1145.63" width="23.85" height="23.23" fill="#d9eeb4"/><rect x="3458.15" y="1145.63" width="23.85" height="23.23" fill="#527ebb"/><rect x="3482.50" y="1145.63" width="23.85" height="23.23" fill="#5078b8"/><rect x="3506.85" y="1145.63" width="23.85" height="23.23" fill="#5896c4"/><rect x="3531.20" y="1145.63" width="23.85" height="23.23" fill="#5589c0"/><rect x="3555.55" y="1145.63" width="23.85" height="23.23" fill="#16205b"/><rect x="3579.90" y="1145.63" width="23.85" height="23.23" fill="#84c5bd"/><rect x="3604.25" y="1145.63" width="23.85" height="23.23" fill="#edf7b5"/><rect x="3628.60" y="1145.63" width="23.85" height="23.23" fill="#f9fcce"/><rect x="3409.45" y="1169.36" width="23.85" height="23.23" fill="#f8fccd"/><rect x="3433.80" y="1169.36" width="23.85" height="23.23" fill="#e9f5b5"/><rect x="3458.15" y="1169.36" width="23.85" height="23.23" fill="#b8e0b8"/><rect x="3482.50" y="1169.36" width="23.85" height="23.23" fill="#89c8bb"/><rect x="3506.85" y="1169.36" width="23.85" height="23.23" fill="#5078b7"/><rect x="3531.20" y="1169.36" width="23.85" height="23.23" fill="#5794c3"/><rect x="3555.55" y="1169.36" width="23.85" height="23.23" fill="#a5d9ba"/><rect x="3579.90" y="1169.36" width="23.85" height="23.23" fill="#16205b"/><rect x="3604.25" y="1169.36" width="23.85" height="23.23" fill="#f5fbc6"/><rect x="3628.60" y="1169.36" width="23.85" height="23.23" fill="#fbfdd2"/><rect x="3409.45" y="1193.09" width="23.85" height="23.23" fill="#6badc4"/><rect x="3433.80" y="1193.09" width="23.85" height="23.23" fill="#5792c3"/><rect x="3458.15" y="1193.09" width="23.85" height="23.23" fill="#d7edb4"/><rect x="3482.50" y="1193.09" width="23.85" height="23.23" fill="#d4ecb4"/><rect x="3506.85" y="1193.09" width="23.85" height="23.23" fill="#d0eab4"/><rect x="3531.20" y="1193.09" width="23.85" height="23.23" fill="#d5ecb4"/><rect x="3555.55" y="1193.09" width="23.85" height="23.23" fill="#d8edb4"/><rect x="3579.90" y="1193.09" width="23.85" height="23.23" fill="#dff1b5"/><rect x="3604.25" y="1193.09" width="23.85" height="23.23" fill="#16205b"/><rect x="3628.60" y="1193.09" width="23.85" height="23.23" fill="#63a4c4"/><rect x="3409.45" y="1216.82" width="23.85" height="23.23" fill="#99d2b9"/><rect x="3433.80" y="1216.82" width="23.85" height="23.23" fill="#272e7f"/><rect x="3458.15" y="1216.82" width="23.85" height="23.23" fill="#ebf6b5"/><rect x="3482.50" y="1216.82" width="23.85" height="23.23" fill="#ddf0b4"/><rect x="3506.85" y="1216.82" width="23.85" height="23.23" fill="#d7edb4"/><rect x="3531.20" y="1216.82" width="23.85" height="23.23" fill="#dcefb4"/><rect x="3555.55" y="1216.82" width="23.85" height="23.23" fill="#e8f5b5"/><rect x="3579.90" y="1216.82" width="23.85" height="23.23" fill="#e4f3b5"/><rect x="3604.25" y="1216.82" width="23.85" height="23.23" fill="#7abcc1"/><rect x="3628.60" y="1216.82" width="23.85" height="23.23" fill="#16205a"/><g font-size="7.500" text-anchor="middle" fill="#fff"><text x="3421.4" y="1016.3">0.997</text><text x="3445.7" y="1016.3">0.662</text><text x="3470.1" y="1016.3">0.557</text><text x="3616.2" y="1016.3">0.624</text><text x="3445.7" y="1040.0">1.000</text><text x="3640.5" y="1040.0">0.855</text><text x="3470.1" y="1063.7">0.998</text><text x="3494.4" y="1063.7">0.686</text><text x="3518.8" y="1063.7">0.655</text><text x="3543.1" y="1063.7">0.639</text><text x="3567.5" y="1063.7">0.657</text><text x="3470.1" y="1087.5">0.661</text><text x="3494.4" y="1087.5">0.997</text><text x="3518.8" y="1087.5">0.681</text><text x="3543.1" y="1087.5">0.911</text><text x="3567.5" y="1087.5">0.629</text><text x="3591.8" y="1087.5">0.571</text><text x="3470.1" y="1111.2">0.582</text><text x="3494.4" y="1111.2">0.660</text><text x="3518.8" y="1111.2">0.998</text><text x="3543.1" y="1111.2">0.803</text><text x="3567.5" y="1111.2">0.556</text><text x="3591.8" y="1111.2">0.841</text><text x="3494.4" y="1134.9">0.858</text><text x="3518.8" y="1134.9">0.656</text><text x="3543.1" y="1134.9">1.000</text><text x="3591.8" y="1134.9">0.541</text><text x="3470.1" y="1158.6">0.727</text><text x="3494.4" y="1158.6">0.744</text><text x="3518.8" y="1158.6">0.663</text><text x="3543.1" y="1158.6">0.696</text><text x="3567.5" y="1158.6">0.999</text><text x="3518.8" y="1182.4">0.745</text><text x="3543.1" y="1182.4">0.669</text><text x="3591.8" y="1182.4">0.999</text><text x="3421.4" y="1206.1">0.586</text><text x="3445.7" y="1206.1">0.674</text><text x="3616.2" y="1206.1">0.999</text><text x="3640.5" y="1206.1">0.616</text><text x="3445.7" y="1229.8">0.940</text><text x="3640.5" y="1229.8">1.000</text></g><g font-size="7.500" text-anchor="middle" fill="#2c2c2c"><text x="3494.4" y="1016.3">0.345</text><text x="3518.8" y="1016.3">0.358</text><text x="3543.1" y="1016.3">0.345</text><text x="3567.5" y="1016.3">0.333</text><text x="3591.8" y="1016.3">0.300</text><text x="3640.5" y="1016.3">0.471</text><text x="3421.4" y="1040.0">0.400</text><text x="3470.1" y="1040.0">0.225</text><text x="3494.4" y="1040.0">0.303</text><text x="3518.8" y="1040.0">0.301</text><text x="3543.1" y="1040.0">0.286</text><text x="3567.5" y="1040.0">0.256</text><text x="3591.8" y="1040.0">0.259</text><text x="3616.2" y="1040.0">0.445</text><text x="3421.4" y="1063.7">0.251</text><text x="3445.7" y="1063.7">0.299</text><text x="3591.8" y="1063.7">0.515</text><text x="3616.2" y="1063.7">0.257</text><text x="3640.5" y="1063.7">0.162</text><text x="3421.4" y="1087.5">0.183</text><text x="3445.7" y="1087.5">0.308</text><text x="3616.2" y="1087.5">0.243</text><text x="3640.5" y="1087.5">0.169</text><text x="3421.4" y="1111.2">0.183</text><text x="3445.7" y="1111.2">0.270</text><text x="3616.2" y="1111.2">0.215</text><text x="3640.5" y="1111.2">0.152</text><text x="3421.4" y="1134.9">0.154</text><text x="3445.7" y="1134.9">0.248</text><text x="3470.1" y="1134.9">0.521</text><text x="3567.5" y="1134.9">0.492</text><text x="3616.2" y="1134.9">0.197</text><text x="3640.5" y="1134.9">0.121</text><text x="3421.4" y="1158.6">0.171</text><text x="3445.7" y="1158.6">0.299</text><text x="3591.8" y="1158.6">0.502</text><text x="3616.2" y="1158.6">0.232</text><text x="3640.5" y="1158.6">0.155</text><text x="3421.4" y="1182.4">0.160</text><text x="3445.7" y="1182.4">0.247</text><text x="3470.1" y="1182.4">0.380</text><text x="3494.4" y="1182.4">0.489</text><text x="3567.5" y="1182.4">0.416</text><text x="3616.2" y="1182.4">0.186</text><text x="3640.5" y="1182.4">0.140</text><text x="3470.1" y="1206.1">0.309</text><text x="3494.4" y="1206.1">0.317</text><text x="3518.8" y="1206.1">0.331</text><text x="3543.1" y="1206.1">0.315</text><text x="3567.5" y="1206.1">0.304</text><text x="3591.8" y="1206.1">0.279</text><text x="3421.4" y="1229.8">0.446</text><text x="3470.1" y="1229.8">0.237</text><text x="3494.4" y="1229.8">0.285</text><text x="3518.8" y="1229.8">0.308</text><text x="3543.1" y="1229.8">0.289</text><text x="3567.5" y="1229.8">0.249</text><text x="3591.8" y="1229.8">0.263</text><text x="3616.2" y="1229.8">0.532</text></g><g font-size="13" fill="#3a3a3a" text-anchor="middle"><text x="3421.4" y="1251.200">1</text><text transform="translate(3406.0,1014.9) rotate(-90)">1</text><text x="3445.7" y="1251.200">2</text><text transform="translate(3406.0,1038.6) rotate(-90)">2</text><text x="3470.1" y="1251.200">3</text><text transform="translate(3406.0,1062.3) rotate(-90)">3</text><text x="3494.4" y="1251.200">4</text><text transform="translate(3406.0,1086.1) rotate(-90)">4</text><text x="3518.8" y="1251.200">5</text><text transform="translate(3406.0,1109.8) rotate(-90)">5</text><text x="3543.1" y="1251.200">6</text><text transform="translate(3406.0,1133.5) rotate(-90)">6</text><text x="3567.5" y="1251.200">7</text><text transform="translate(3406.0,1157.2) rotate(-90)">7</text><text x="3591.8" y="1251.200">8</text><text transform="translate(3406.0,1181.0) rotate(-90)">8</text><text x="3616.2" y="1251.200">9</text><text transform="translate(3406.0,1204.7) rotate(-90)">9</text><text x="3640.5" y="1251.200">10</text><text transform="translate(3406.0,1228.4) rotate(-90)">10</text></g><text x="3530.6" y="1266.300" text-anchor="middle" font-size="14.500" font-weight="bold">j</text><text transform="translate(3390.7,1121.500) rotate(-90)" text-anchor="middle" font-size="14.500" font-weight="bold">i</text><text x="3516.6" y="1305.3" text-anchor="middle" font-family="'Liberation Serif',serif" font-size="26.8" fill="#000" xml:space="preserve">(c)  Aggregate</text><rect x="3710.2" y="1003.0" width="243.4" height="237.3" fill="#f4f8e0"/><rect x="3710.45" y="1003.25" width="23.84" height="23.23" fill="#333c95"/><rect x="3734.79" y="1003.25" width="23.84" height="23.23" fill="#6aacc4"/><rect x="3759.13" y="1003.25" width="23.84" height="23.23" fill="#a3d7ba"/><rect x="3783.47" y="1003.25" width="23.84" height="23.23" fill="#e1f1b5"/><rect x="3807.81" y="1003.25" width="23.84" height="23.23" fill="#ddf0b4"/><rect x="3832.15" y="1003.25" width="23.84" height="23.23" fill="#e2f2b5"/><rect x="3856.49" y="1003.25" width="23.84" height="23.23" fill="#e3f3b5"/><rect x="3880.83" y="1003.25" width="23.84" height="23.23" fill="#e2f2b5"/><rect x="3905.17" y="1003.25" width="23.84" height="23.23" fill="#75b7c3"/><rect x="3929.51" y="1003.25" width="23.84" height="23.23" fill="#9dd5ba"/><rect x="3710.45" y="1026.98" width="23.84" height="23.23" fill="#a6d9ba"/><rect x="3734.79" y="1026.98" width="23.84" height="23.23" fill="#2a3084"/><rect x="3759.13" y="1026.98" width="23.84" height="23.23" fill="#f3fac2"/><rect x="3783.47" y="1026.98" width="23.84" height="23.23" fill="#eaf6b5"/><rect x="3807.81" y="1026.98" width="23.84" height="23.23" fill="#e6f4b5"/><rect x="3832.15" y="1026.98" width="23.84" height="23.23" fill="#ecf7b5"/><rect x="3856.49" y="1026.98" width="23.84" height="23.23" fill="#f0f8b7"/><rect x="3880.83" y="1026.98" width="23.84" height="23.23" fill="#e6f4b5"/><rect x="3905.17" y="1026.98" width="23.84" height="23.23" fill="#97d2b9"/><rect x="3929.51" y="1026.98" width="23.84" height="23.23" fill="#5b9ac4"/><rect x="3710.45" y="1050.71" width="23.84" height="23.23" fill="#f2f9be"/><rect x="3734.79" y="1050.71" width="23.84" height="23.23" fill="#eff8b6"/><rect x="3759.13" y="1050.71" width="23.84" height="23.23" fill="#2a3186"/><rect x="3783.47" y="1050.71" width="23.84" height="23.23" fill="#5998c4"/><rect x="3807.81" y="1050.71" width="23.84" height="23.23" fill="#65a6c4"/><rect x="3832.15" y="1050.71" width="23.84" height="23.23" fill="#67a8c4"/><rect x="3856.49" y="1050.71" width="23.84" height="23.23" fill="#68a9c4"/><rect x="3880.83" y="1050.71" width="23.84" height="23.23" fill="#88c8bb"/><rect x="3905.17" y="1050.71" width="23.84" height="23.23" fill="#f2fabf"/><rect x="3929.51" y="1050.71" width="23.84" height="23.23" fill="#fbfdd2"/><rect x="3710.45" y="1074.44" width="23.84" height="23.23" fill="#f9fccf"/><rect x="3734.79" y="1074.44" width="23.84" height="23.23" fill="#f2f9bd"/><rect x="3759.13" y="1074.44" width="23.84" height="23.23" fill="#70b3c4"/><rect x="3783.47" y="1074.44" width="23.84" height="23.23" fill="#17215c"/><rect x="3807.81" y="1074.44" width="23.84" height="23.23" fill="#60a0c4"/><rect x="3832.15" y="1074.44" width="23.84" height="23.23" fill="#39459c"/><rect x="3856.49" y="1074.44" width="23.84" height="23.23" fill="#72b5c4"/><rect x="3880.83" y="1074.44" width="23.84" height="23.23" fill="#77b9c2"/><rect x="3905.17" y="1074.44" width="23.84" height="23.23" fill="#f5fbc8"/><rect x="3929.51" y="1074.44" width="23.84" height="23.23" fill="#fcfed4"/><rect x="3710.45" y="1098.17" width="23.84" height="23.23" fill="#f8fcce"/><rect x="3734.79" y="1098.17" width="23.84" height="23.23" fill="#f2fabf"/><rect x="3759.13" y="1098.17" width="23.84" height="23.23" fill="#86c6bc"/><rect x="3783.47" y="1098.17" width="23.84" height="23.23" fill="#60a1c4"/><rect x="3807.81" y="1098.17" width="23.84" height="23.23" fill="#16205a"/><rect x="3832.15" y="1098.17" width="23.84" height="23.23" fill="#4e71b4"/><rect x="3856.49" y="1098.17" width="23.84" height="23.23" fill="#88c8bb"/><rect x="3880.83" y="1098.17" width="23.84" height="23.23" fill="#4b67af"/><rect x="3905.17" y="1098.17" width="23.84" height="23.23" fill="#f6fbca"/><rect x="3929.51" y="1098.17" width="23.84" height="23.23" fill="#fcfed4"/><rect x="3710.45" y="1121.90" width="23.84" height="23.23" fill="#f9fccf"/><rect x="3734.79" y="1121.90" width="23.84" height="23.23" fill="#f2fabf"/><rect x="3759.13" y="1121.90" width="23.84" height="23.23" fill="#9ad3b9"/><rect x="3783.47" y="1121.90" width="23.84" height="23.23" fill="#465ca9"/><rect x="3807.81" y="1121.90" width="23.84" height="23.23" fill="#64a5c4"/><rect x="3832.15" y="1121.90" width="23.84" height="23.23" fill="#18225e"/><rect x="3856.49" y="1121.90" width="23.84" height="23.23" fill="#96d1b9"/><rect x="3880.83" y="1121.90" width="23.84" height="23.23" fill="#7dbfc0"/><rect x="3905.17" y="1121.90" width="23.84" height="23.23" fill="#f6fbca"/><rect x="3929.51" y="1121.90" width="23.84" height="23.23" fill="#fdfed6"/><rect x="3710.45" y="1145.63" width="23.84" height="23.23" fill="#f9fcce"/><rect x="3734.79" y="1145.63" width="23.84" height="23.23" fill="#f0f8b7"/><rect x="3759.13" y="1145.63" width="23.84" height="23.23" fill="#5d9dc4"/><rect x="3783.47" y="1145.63" width="23.84" height="23.23" fill="#5486be"/><rect x="3807.81" y="1145.63" width="23.84" height="23.23" fill="#64a5c4"/><rect x="3832.15" y="1145.63" width="23.84" height="23.23" fill="#5b9ac4"/><rect x="3856.49" y="1145.63" width="23.84" height="23.23" fill="#272e7f"/><rect x="3880.83" y="1145.63" width="23.84" height="23.23" fill="#8bcbba"/><rect x="3905.17" y="1145.63" width="23.84" height="23.23" fill="#f5fbc8"/><rect x="3929.51" y="1145.63" width="23.84" height="23.23" fill="#fcfdd4"/><rect x="3710.45" y="1169.36" width="23.84" height="23.23" fill="#f8fccc"/><rect x="3734.79" y="1169.36" width="23.84" height="23.23" fill="#f0f8b7"/><rect x="3759.13" y="1169.36" width="23.84" height="23.23" fill="#c9e7b5"/><rect x="3783.47" y="1169.36" width="23.84" height="23.23" fill="#90ceb9"/><rect x="3807.81" y="1169.36" width="23.84" height="23.23" fill="#527fbb"/><rect x="3832.15" y="1169.36" width="23.84" height="23.23" fill="#5e9ec4"/><rect x="3856.49" y="1169.36" width="23.84" height="23.23" fill="#b1deb9"/><rect x="3880.83" y="1169.36" width="23.84" height="23.23" fill="#1b2464"/><rect x="3905.17" y="1169.36" width="23.84" height="23.23" fill="#f5fbc7"/><rect x="3929.51" y="1169.36" width="23.84" height="23.23" fill="#fafdd1"/><rect x="3710.45" y="1193.09" width="23.84" height="23.23" fill="#78bac2"/><rect x="3734.79" y="1193.09" width="23.84" height="23.23" fill="#5f9fc4"/><rect x="3759.13" y="1193.09" width="23.84" height="23.23" fill="#eaf6b5"/><rect x="3783.47" y="1193.09" width="23.84" height="23.23" fill="#e3f3b5"/><rect x="3807.81" y="1193.09" width="23.84" height="23.23" fill="#e1f2b5"/><rect x="3832.15" y="1193.09" width="23.84" height="23.23" fill="#e8f5b5"/><rect x="3856.49" y="1193.09" width="23.84" height="23.23" fill="#e7f5b5"/><rect x="3880.83" y="1193.09" width="23.84" height="23.23" fill="#e5f3b5"/><rect x="3905.17" y="1193.09" width="23.84" height="23.23" fill="#2b3288"/><rect x="3929.51" y="1193.09" width="23.84" height="23.23" fill="#71b4c4"/><rect x="3710.45" y="1216.82" width="23.84" height="23.23" fill="#93d0b9"/><rect x="3734.79" y="1216.82" width="23.84" height="23.23" fill="#38449c"/><rect x="3759.13" y="1216.82" width="23.84" height="23.23" fill="#f3fac3"/><rect x="3783.47" y="1216.82" width="23.84" height="23.23" fill="#ecf7b5"/><rect x="3807.81" y="1216.82" width="23.84" height="23.23" fill="#e6f4b5"/><rect x="3832.15" y="1216.82" width="23.84" height="23.23" fill="#eff8b6"/><rect x="3856.49" y="1216.82" width="23.84" height="23.23" fill="#f2f9bd"/><rect x="3880.83" y="1216.82" width="23.84" height="23.23" fill="#e9f5b5"/><rect x="3905.17" y="1216.82" width="23.84" height="23.23" fill="#84c4bd"/><rect x="3929.51" y="1216.82" width="23.84" height="23.23" fill="#2b3187"/><g font-size="7.500" text-anchor="middle" fill="#fff"><text x="3722.4" y="1016.3">0.771</text><text x="3746.7" y="1016.3">0.487</text><text x="3917.1" y="1016.3">0.449</text><text x="3746.7" y="1040.0">0.805</text><text x="3941.4" y="1040.0">0.544</text><text x="3771.0" y="1063.7">0.803</text><text x="3795.4" y="1063.7">0.551</text><text x="3819.7" y="1063.7">0.504</text><text x="3844.1" y="1063.7">0.497</text><text x="3868.4" y="1063.7">0.495</text><text x="3771.0" y="1087.5">0.463</text><text x="3795.4" y="1087.5">0.866</text><text x="3819.7" y="1087.5">0.525</text><text x="3844.1" y="1087.5">0.748</text><text x="3868.4" y="1087.5">0.455</text><text x="3892.8" y="1087.5">0.442</text><text x="3795.4" y="1111.2">0.522</text><text x="3819.7" y="1111.2">0.869</text><text x="3844.1" y="1111.2">0.649</text><text x="3892.8" y="1111.2">0.674</text><text x="3795.4" y="1134.9">0.700</text><text x="3819.7" y="1134.9">0.507</text><text x="3844.1" y="1134.9">0.863</text><text x="3771.0" y="1158.6">0.534</text><text x="3795.4" y="1158.6">0.596</text><text x="3819.7" y="1158.6">0.507</text><text x="3844.1" y="1158.6">0.543</text><text x="3868.4" y="1158.6">0.813</text><text x="3819.7" y="1182.4">0.613</text><text x="3844.1" y="1182.4">0.531</text><text x="3892.8" y="1182.4">0.854</text><text x="3722.4" y="1206.1">0.440</text><text x="3746.7" y="1206.1">0.529</text><text x="3917.1" y="1206.1">0.799</text><text x="3941.4" y="1206.1">0.461</text><text x="3746.7" y="1229.8">0.750</text><text x="3941.4" y="1229.8">0.801</text></g><g font-size="7.500" text-anchor="middle" fill="#2c2c2c"><text x="3771.0" y="1016.3">0.331</text><text x="3795.4" y="1016.3">0.193</text><text x="3819.7" y="1016.3">0.205</text><text x="3844.1" y="1016.3">0.189</text><text x="3868.4" y="1016.3">0.185</text><text x="3892.8" y="1016.3">0.189</text><text x="3941.4" y="1016.3">0.343</text><text x="3722.4" y="1040.0">0.324</text><text x="3771.0" y="1040.0">0.120</text><text x="3795.4" y="1040.0">0.163</text><text x="3819.7" y="1040.0">0.174</text><text x="3844.1" y="1040.0">0.155</text><text x="3868.4" y="1040.0">0.142</text><text x="3892.8" y="1040.0">0.176</text><text x="3917.1" y="1040.0">0.357</text><text x="3722.4" y="1063.7">0.127</text><text x="3746.7" y="1063.7">0.144</text><text x="3892.8" y="1063.7">0.395</text><text x="3917.1" y="1063.7">0.125</text><text x="3941.4" y="1063.7">0.067</text><text x="3722.4" y="1087.5">0.080</text><text x="3746.7" y="1087.5">0.130</text><text x="3917.1" y="1087.5">0.106</text><text x="3941.4" y="1087.5">0.059</text><text x="3722.4" y="1111.2">0.084</text><text x="3746.7" y="1111.2">0.126</text><text x="3771.0" y="1111.2">0.401</text><text x="3868.4" y="1111.2">0.394</text><text x="3917.1" y="1111.2">0.098</text><text x="3941.4" y="1111.2">0.059</text><text x="3722.4" y="1134.9">0.079</text><text x="3746.7" y="1134.9">0.125</text><text x="3771.0" y="1134.9">0.350</text><text x="3868.4" y="1134.9">0.359</text><text x="3892.8" y="1134.9">0.425</text><text x="3917.1" y="1134.9">0.100</text><text x="3941.4" y="1134.9">0.050</text><text x="3722.4" y="1158.6">0.081</text><text x="3746.7" y="1158.6">0.142</text><text x="3892.8" y="1158.6">0.385</text><text x="3917.1" y="1158.6">0.108</text><text x="3941.4" y="1158.6">0.060</text><text x="3722.4" y="1182.4">0.089</text><text x="3746.7" y="1182.4">0.143</text><text x="3771.0" y="1182.4">0.264</text><text x="3795.4" y="1182.4">0.374</text><text x="3868.4" y="1182.4">0.301</text><text x="3917.1" y="1182.4">0.109</text><text x="3941.4" y="1182.4">0.071</text><text x="3771.0" y="1206.1">0.162</text><text x="3795.4" y="1206.1">0.184</text><text x="3819.7" y="1206.1">0.192</text><text x="3844.1" y="1206.1">0.170</text><text x="3868.4" y="1206.1">0.171</text><text x="3892.8" y="1206.1">0.179</text><text x="3722.4" y="1229.8">0.366</text><text x="3771.0" y="1229.8">0.118</text><text x="3795.4" y="1229.8">0.156</text><text x="3819.7" y="1229.8">0.174</text><text x="3844.1" y="1229.8">0.145</text><text x="3868.4" y="1229.8">0.130</text><text x="3892.8" y="1229.8">0.165</text><text x="3917.1" y="1229.8">0.406</text></g><g font-size="13" fill="#3a3a3a" text-anchor="middle"><text x="3722.4" y="1251.200">1</text><text transform="translate(3706.4,1014.9) rotate(-90)">1</text><text x="3746.7" y="1251.200">2</text><text transform="translate(3706.4,1038.6) rotate(-90)">2</text><text x="3771.0" y="1251.200">3</text><text transform="translate(3706.4,1062.3) rotate(-90)">3</text><text x="3795.4" y="1251.200">4</text><text transform="translate(3706.4,1086.1) rotate(-90)">4</text><text x="3819.7" y="1251.200">5</text><text transform="translate(3706.4,1109.8) rotate(-90)">5</text><text x="3844.1" y="1251.200">6</text><text transform="translate(3706.4,1133.5) rotate(-90)">6</text><text x="3868.4" y="1251.200">7</text><text transform="translate(3706.4,1157.2) rotate(-90)">7</text><text x="3892.8" y="1251.200">8</text><text transform="translate(3706.4,1181.0) rotate(-90)">8</text><text x="3917.1" y="1251.200">9</text><text transform="translate(3706.4,1204.7) rotate(-90)">9</text><text x="3941.4" y="1251.200">10</text><text transform="translate(3706.4,1228.4) rotate(-90)">10</text></g><text x="3831.3" y="1266.300" text-anchor="middle" font-size="14.500" font-weight="bold">j</text><text transform="translate(3692.8,1121.500) rotate(-90)" text-anchor="middle" font-size="14.500" font-weight="bold">i</text><text x="3817.6" y="1305.3" text-anchor="middle" font-family="'Liberation Serif',serif" font-size="26.8" fill="#000" xml:space="preserve">(d)  Vaguest</text></svg>
<svg class="ab" style="left:2764.8px;top:1326.0px" width="35" height="39" viewBox="0 0 35 39"><path d="M0.5 0.8 L34 19.3 L0.5 38 L9.8 19.3 Z" fill="#000"/><path d="M3.6 4.6 L28.6 18.5 L11.2 18.5 Z" fill="#fff"/></svg>
<div class="t" style="left:2806.5px;top:1314.19px;font-size:53.05px;line-height:63.85px;">The data distribution is much more complex than<br>that of synthetic datasets.</div>
<svg class="ab" style="left:2761.3px;top:1673.5px" width="35" height="39" viewBox="0 0 35 39"><path d="M0.5 0.8 L34 19.3 L0.5 38 L9.8 19.3 Z" fill="#000"/><path d="M3.6 4.6 L28.6 18.5 L11.2 18.5 Z" fill="#fff"/></svg>
<div class="t" style="left:2804.0px;top:1661.69px;font-size:53.05px;line-height:63.85px;">The first PLL benchmark with 27 PLL algorithms,<br>11 real-world datasets, and consistent<br>experimental settings.</div>
<svg class="abs" style="left:2770px;top:1890px" width="1230" height="770" viewBox="2770 1890 1230 770" font-family="'Liberation Sans',sans-serif"><defs><linearGradient id="cw" x1="0" y1="0" x2="0" y2="1"><stop offset="0" stop-color="#b40426"/><stop offset="0.125" stop-color="#d24b40"/><stop offset="0.25" stop-color="#e7745b"/><stop offset="0.375" stop-color="#f59f80"/><stop offset="0.5" stop-color="#dddcdc"/><stop offset="0.625" stop-color="#c0d4f5"/><stop offset="0.75" stop-color="#98b9ff"/><stop offset="0.875" stop-color="#6788ee"/><stop offset="1" stop-color="#3b4cc0"/></linearGradient></defs><rect x="2840.2" y="1905.9" width="1028.7" height="113.1" fill="#eaeaf2"/><path d="M2868.8 1911.1V1920.2M2868.8 1938.0V1938.0M2865.2 1911.1h7.2M2865.2 1938.0h7.2M2862.7 1933.9h12.2M2925.9 1912.5V1938.6M2925.9 1966.8V2006.1M2922.3 1912.5h7.2M2922.3 2006.1h7.2M2919.8 1945.4h12.2M2983.1 1911.1V1926.5M2983.1 1950.4V1977.0M2979.5 1911.1h7.2M2979.5 1977.0h7.2M2977.0 1936.6h12.2M3040.2 1914.7V1932.5M3040.2 1973.7V2008.0M3036.6 1914.7h7.2M3036.6 2008.0h7.2M3034.1 1946.8h12.2M3097.4 1913.3V1935.5M3097.4 1975.1V1998.9M3093.8 1913.3h7.2M3093.8 1998.9h7.2M3091.3 1956.7h12.2M3154.5 1914.7V1932.8M3154.5 1996.5V2010.7M3150.9 1914.7h7.2M3150.9 2010.7h7.2M3148.4 1944.3h12.2M3211.7 1913.3V1938.8M3211.7 1981.1V2012.1M3208.1 1913.3h7.2M3208.1 2012.1h7.2M3205.6 1974.5h12.2M3268.8 1912.5V1939.7M3268.8 1985.5V2008.0M3265.2 1912.5h7.2M3265.2 2008.0h7.2M3262.7 1977.8h12.2M3326.0 1912.0V1921.6M3326.0 1966.6V1985.5M3322.4 1912.0h7.2M3322.4 1985.5h7.2M3319.9 1938.8h12.2M3383.1 1913.9V1919.4M3383.1 1966.8V2001.4M3379.5 1913.9h7.2M3379.5 2001.4h7.2M3377.0 1938.6h12.2M3440.3 1911.1V1924.8M3440.3 1938.6V1938.6M3436.7 1911.1h7.2M3436.7 1938.6h7.2M3434.2 1930.6h12.2M3497.4 1913.3V1928.4M3497.4 1964.9V1976.4M3493.8 1913.3h7.2M3493.8 1976.4h7.2M3491.3 1937.2h12.2M3554.6 1913.3V1925.1M3554.6 1991.0V1993.4M3551.0 1913.3h7.2M3551.0 1993.4h7.2M3548.5 1940.8h12.2M3611.7 1912.0V1925.4M3611.7 1992.3V1997.0M3608.1 1912.0h7.2M3608.1 1997.0h7.2M3605.6 1947.6h12.2M3668.9 1911.1V1923.5M3668.9 1988.8V1991.0M3665.3 1911.1h7.2M3665.3 1991.0h7.2M3662.8 1946.8h12.2M3726.0 1912.0V1946.3M3726.0 1995.1V2014.0M3722.4 1912.0h7.2M3722.4 2014.0h7.2M3719.9 1967.4h12.2M3783.2 1911.4V1925.9M3783.2 1968.2V1993.7M3779.6 1911.4h7.2M3779.6 1993.7h7.2M3777.1 1944.1h12.2M3840.3 1914.1V1935.5M3840.3 1969.6V1998.9M3836.7 1914.1h7.2M3836.7 1998.9h7.2M3834.2 1939.7h12.2" stroke="#3d3d3d" stroke-width="1.600" fill="none"/><g stroke="#3d3d3d" stroke-width="1.600"><rect x="2862.7" y="1920.2" width="12.2" height="17.8" fill="#a0132c"/><rect x="2919.8" y="1938.6" width="12.2" height="28.3" fill="#eeb9a0"/><rect x="2977.0" y="1926.5" width="12.2" height="23.9" fill="#c2473e"/><rect x="3034.1" y="1932.5" width="12.2" height="41.2" fill="#eec3ae"/><rect x="3091.3" y="1935.5" width="12.2" height="39.5" fill="#eec5b0"/><rect x="3148.4" y="1932.8" width="12.2" height="63.7" fill="#6c86e8"/><rect x="3205.6" y="1938.8" width="12.2" height="42.3" fill="#4a5fd0"/><rect x="3262.7" y="1939.7" width="12.2" height="45.8" fill="#3f4fc4"/><rect x="3319.9" y="1921.6" width="12.2" height="45.0" fill="#d0604d"/><rect x="3377.0" y="1919.4" width="12.2" height="47.5" fill="#d9735c"/><rect x="3434.2" y="1924.8" width="12.2" height="13.7" fill="#a0132c"/><rect x="3491.3" y="1928.4" width="12.2" height="36.5" fill="#e29a7c"/><rect x="3548.5" y="1925.1" width="12.2" height="65.9" fill="#e5a080"/><rect x="3605.6" y="1925.4" width="12.2" height="67.0" fill="#e9b095"/><rect x="3662.8" y="1923.5" width="12.2" height="65.3" fill="#e8a98b"/><rect x="3719.9" y="1946.3" width="12.2" height="48.8" fill="#c6d2ee"/><rect x="3777.1" y="1925.9" width="12.2" height="42.3" fill="#db8468"/><rect x="3834.2" y="1935.5" width="12.2" height="34.0" fill="#e9b79d"/></g><path d="M2862.7 1933.9h12.200M2919.8 1945.4h12.200M2977.0 1936.6h12.200M3034.1 1946.8h12.200M3091.3 1956.7h12.200M3148.4 1944.3h12.200M3205.6 1974.5h12.200M3262.7 1977.8h12.200M3319.9 1938.8h12.200M3377.0 1938.6h12.200M3434.2 1930.6h12.200M3491.3 1937.2h12.200M3548.5 1940.8h12.200M3605.6 1947.6h12.200M3662.8 1946.8h12.200M3719.9 1967.4h12.200M3777.1 1944.1h12.200M3834.2 1939.7h12.200" stroke="#3d3d3d" stroke-width="1.600" fill="none"/><g font-size="18.0" fill="#333" text-anchor="end"><text x="2835.600" y="1932.1">70</text><text x="2835.600" y="1966.4">60</text><text x="2835.600" y="2000.7">50</text></g><text transform="translate(2805.900,1962.4) rotate(-90)" text-anchor="middle" font-size="23.600" font-weight="bold" fill="#000">Accuracy</text><g font-size="18.0" fill="#333" text-anchor="middle"><text transform="translate(2868.8,2048.7) rotate(-30)" y="6.4">PRODEN</text><text transform="translate(2925.9,2040.9) rotate(-30)" y="6.4">CAVL</text><text transform="translate(2983.1,2038.9) rotate(-30)" y="6.4">POP</text><text transform="translate(3040.2,2049.7) rotate(-30)" y="6.4">ABS-MAE</text><text transform="translate(3097.4,2049.7) rotate(-30)" y="6.4">ABS-GCE</text><text transform="translate(3154.5,2038.5) rotate(-30)" y="6.4">EXP</text><text transform="translate(3211.7,2050.2) rotate(-30)" y="6.4">MCL-GCE</text><text transform="translate(3268.8,2050.2) rotate(-30)" y="6.4">MCL-MSE</text><text transform="translate(3326.0,2035.9) rotate(-30)" y="6.4">CC</text><text transform="translate(3383.1,2038.9) rotate(-30)" y="6.4">LWS</text><text transform="translate(3440.3,2040.4) rotate(-30)" y="6.4">IDGP</text><text transform="translate(3497.4,2035.7) rotate(-30)" y="6.4">PC</text><text transform="translate(3554.6,2046.1) rotate(-30)" y="6.7">Forward</text><text transform="translate(3611.7,2048.7) rotate(-30)" y="6.4">SCL-EXP</text><text transform="translate(3668.9,2045.5) rotate(-30)" y="6.4">SCL-NL</text><text transform="translate(3726.0,2037.7) rotate(-30)" y="6.4">L-W</text><text transform="translate(3783.2,2041.7) rotate(-30)" y="6.4">OP-W</text><text transform="translate(3840.3,2043.9) rotate(-30)" y="6.4">VALEN</text></g><rect x="3933.900" y="1905.9" width="5.500" height="113.1" fill="url(#cw)"/><g font-size="18.0" fill="#333"><text x="3943.300" y="1921.1">65</text><text x="3943.300" y="1961.7">60</text><text x="3943.300" y="2002.6">55</text></g><rect x="2840.2" y="2094.3" width="1028.7" height="113.3" fill="#eaeaf2"/><path d="M2868.8 2099.8V2104.7M2868.8 2111.8V2111.8M2865.2 2099.8h7.2M2865.2 2111.8h7.2M2862.7 2107.4h12.2M2925.9 2100.0V2110.7M2925.9 2123.1V2139.8M2922.3 2100.0h7.2M2922.3 2139.8h7.2M2919.8 2112.9h12.2M2983.1 2099.8V2105.2M2983.1 2112.9V2112.9M2979.5 2099.8h7.2M2979.5 2112.9h7.2M2977.0 2107.4h12.2M3040.2 2101.4V2109.4M3040.2 2134.9V2141.2M3036.6 2101.4h7.2M3036.6 2141.2h7.2M3034.1 2121.2h12.2M3097.4 2100.6V2111.6M3097.4 2129.4V2137.6M3093.8 2100.6h7.2M3093.8 2137.6h7.2M3091.3 2119.2h12.2M3154.5 2101.1V2108.8M3154.5 2137.6V2139.0M3150.9 2101.1h7.2M3150.9 2139.0h7.2M3148.4 2122.5h12.2M3211.7 2100.0V2112.1M3211.7 2134.1V2140.4M3208.1 2100.0h7.2M3208.1 2140.4h7.2M3205.6 2127.2h12.2M3268.8 2100.6V2119.8M3268.8 2153.8V2202.1M3265.2 2100.6h7.2M3265.2 2202.1h7.2M3262.7 2130.8h12.2M3326.0 2099.8V2106.9M3326.0 2118.7V2129.9M3322.4 2099.8h7.2M3322.4 2129.9h7.2M3319.9 2111.6h12.2M3383.1 2103.3V2120.9M3383.1 2139.0V2148.6M3379.5 2103.3h7.2M3379.5 2148.6h7.2M3377.0 2134.6h12.2M3440.3 2099.8V2105.2M3440.3 2111.6V2111.6M3436.7 2099.8h7.2M3436.7 2111.6h7.2M3434.2 2107.4h12.2M3497.4 2101.1V2109.9M3497.4 2127.5V2141.2M3493.8 2101.1h7.2M3493.8 2141.2h7.2M3491.3 2115.4h12.2M3554.6 2100.0V2105.5M3554.6 2131.0V2133.0M3551.0 2100.0h7.2M3551.0 2133.0h7.2M3548.5 2112.7h12.2M3611.7 2100.3V2106.9M3611.7 2132.7V2134.1M3608.1 2100.3h7.2M3608.1 2134.1h7.2M3605.6 2120.1h12.2M3668.9 2099.8V2105.2M3668.9 2130.8V2133.0M3665.3 2099.8h7.2M3665.3 2133.0h7.2M3662.8 2114.0h12.2M3726.0 2100.9V2114.6M3726.0 2134.9V2144.5M3722.4 2100.9h7.2M3722.4 2144.5h7.2M3719.9 2121.7h12.2M3783.2 2115.9V2139.5M3783.2 2181.5V2201.6M3779.6 2115.9h7.2M3779.6 2201.6h7.2M3777.1 2162.6h12.2M3840.3 2101.1V2109.6M3840.3 2123.4V2134.3M3836.7 2101.1h7.2M3836.7 2134.3h7.2M3834.2 2119.0h12.2" stroke="#3d3d3d" stroke-width="1.600" fill="none"/><g stroke="#3d3d3d" stroke-width="1.600"><rect x="2862.7" y="2104.7" width="12.2" height="7.1" fill="#a0132c"/><rect x="2919.8" y="2110.7" width="12.2" height="12.3" fill="#cf5f48"/><rect x="2977.0" y="2105.2" width="12.2" height="7.7" fill="#a0132c"/><rect x="3034.1" y="2109.4" width="12.2" height="25.5" fill="#db7f63"/><rect x="3091.3" y="2111.6" width="12.2" height="17.8" fill="#d8775c"/><rect x="3148.4" y="2108.8" width="12.2" height="28.8" fill="#efc1a8"/><rect x="3205.6" y="2112.1" width="12.2" height="22.0" fill="#f0c6b0"/><rect x="3262.7" y="2119.8" width="12.2" height="34.0" fill="#dcdcdc"/><rect x="3319.9" y="2106.9" width="12.2" height="11.8" fill="#b8222f"/><rect x="3377.0" y="2120.9" width="12.2" height="18.1" fill="#f0c3aa"/><rect x="3434.2" y="2105.2" width="12.2" height="6.3" fill="#8f1127"/><rect x="3491.3" y="2109.9" width="12.2" height="17.6" fill="#d66e55"/><rect x="3548.5" y="2105.5" width="12.2" height="25.5" fill="#c0443c"/><rect x="3605.6" y="2106.9" width="12.2" height="25.8" fill="#cf5f4a"/><rect x="3662.8" y="2105.2" width="12.2" height="25.5" fill="#c0463d"/><rect x="3719.9" y="2114.6" width="12.2" height="20.3" fill="#e5a080"/><rect x="3777.1" y="2139.5" width="12.2" height="42.0" fill="#3a4bc4"/><rect x="3834.2" y="2109.6" width="12.2" height="13.7" fill="#cf5d48"/></g><path d="M2862.7 2107.4h12.200M2919.8 2112.9h12.200M2977.0 2107.4h12.200M3034.1 2121.2h12.200M3091.3 2119.2h12.200M3148.4 2122.5h12.200M3205.6 2127.2h12.200M3262.7 2130.8h12.200M3319.9 2111.6h12.200M3377.0 2134.6h12.200M3434.2 2107.4h12.200M3491.3 2115.4h12.200M3548.5 2112.7h12.200M3605.6 2120.1h12.200M3662.8 2114.0h12.200M3719.9 2121.7h12.200M3777.1 2162.6h12.200M3834.2 2119.0h12.200" stroke="#3d3d3d" stroke-width="1.600" fill="none"/><g font-size="18.0" fill="#333" text-anchor="end"><text x="2835.600" y="2140.5">50</text><text x="2835.600" y="2209.9">0</text></g><text transform="translate(2805.900,2150.9) rotate(-90)" text-anchor="middle" font-size="23.600" font-weight="bold" fill="#000">Accuracy</text><g font-size="18.0" fill="#333" text-anchor="middle"><text transform="translate(2868.8,2237.3) rotate(-30)" y="6.4">PRODEN</text><text transform="translate(2925.9,2229.5) rotate(-30)" y="6.4">CAVL</text><text transform="translate(2983.1,2227.6) rotate(-30)" y="6.4">POP</text><text transform="translate(3040.2,2238.3) rotate(-30)" y="6.4">ABS-MAE</text><text transform="translate(3097.4,2238.3) rotate(-30)" y="6.4">ABS-GCE</text><text transform="translate(3154.5,2227.1) rotate(-30)" y="6.4">EXP</text><text transform="translate(3211.7,2238.8) rotate(-30)" y="6.4">MCL-GCE</text><text transform="translate(3268.8,2238.8) rotate(-30)" y="6.4">MCL-MSE</text><text transform="translate(3326.0,2224.6) rotate(-30)" y="6.4">CC</text><text transform="translate(3383.1,2227.5) rotate(-30)" y="6.4">LWS</text><text transform="translate(3440.3,2229.1) rotate(-30)" y="6.4">IDGP</text><text transform="translate(3497.4,2224.3) rotate(-30)" y="6.4">PC</text><text transform="translate(3554.6,2234.8) rotate(-30)" y="6.7">Forward</text><text transform="translate(3611.7,2237.3) rotate(-30)" y="6.4">SCL-EXP</text><text transform="translate(3668.9,2234.1) rotate(-30)" y="6.4">SCL-NL</text><text transform="translate(3726.0,2226.3) rotate(-30)" y="6.4">L-W</text><text transform="translate(3783.2,2230.3) rotate(-30)" y="6.4">OP-W</text><text transform="translate(3840.3,2232.5) rotate(-30)" y="6.4">VALEN</text></g><rect x="3933.900" y="2094.3" width="5.500" height="113.3" fill="url(#cw)"/><g font-size="18.0" fill="#333"><text x="3943.300" y="2118.8">60</text><text x="3943.300" y="2181.6">40</text></g><rect x="2840.2" y="2282.9" width="1028.7" height="113.3" fill="#eaeaf2"/><path d="M2868.8 2296.6V2301.8M2868.8 2318.6V2318.6M2865.2 2296.6h7.2M2865.2 2318.6h7.2M2862.7 2304.0h12.2M2925.9 2295.0V2312.0M2925.9 2346.6V2372.9M2922.3 2295.0h7.2M2922.3 2372.9h7.2M2919.8 2324.3h12.2M2983.1 2296.1V2302.4M2983.1 2319.9V2319.9M2979.5 2296.1h7.2M2979.5 2319.9h7.2M2977.0 2304.8h12.2M3040.2 2297.7V2310.9M3040.2 2350.4V2379.5M3036.6 2297.7h7.2M3036.6 2379.5h7.2M3034.1 2318.0h12.2M3097.4 2294.1V2309.2M3097.4 2351.2V2370.2M3093.8 2294.1h7.2M3093.8 2370.2h7.2M3091.3 2330.6h12.2M3154.5 2296.1V2303.2M3154.5 2371.8V2380.6M3150.9 2296.1h7.2M3150.9 2380.6h7.2M3148.4 2323.5h12.2M3211.7 2295.0V2323.0M3211.7 2358.1V2377.3M3208.1 2295.0h7.2M3208.1 2377.3h7.2M3205.6 2355.9h12.2M3268.8 2294.7V2316.6M3268.8 2362.5V2388.0M3265.2 2294.7h7.2M3265.2 2388.0h7.2M3262.7 2351.2h12.2M3326.0 2296.6V2300.7M3326.0 2325.2V2353.7M3322.4 2296.6h7.2M3322.4 2353.7h7.2M3319.9 2305.1h12.2M3383.1 2295.5V2300.7M3383.1 2327.1V2360.8M3379.5 2295.5h7.2M3379.5 2360.8h7.2M3377.0 2320.2h12.2M3440.3 2292.0V2296.9M3440.3 2330.6V2362.5M3436.7 2292.0h7.2M3436.7 2362.5h7.2M3434.2 2307.3h12.2M3497.4 2297.2V2307.0M3497.4 2343.5V2386.9M3493.8 2297.2h7.2M3493.8 2386.9h7.2M3491.3 2318.8h12.2M3554.6 2295.8V2303.8M3554.6 2365.5V2366.6M3551.0 2295.8h7.2M3551.0 2366.6h7.2M3548.5 2308.4h12.2M3611.7 2295.2V2305.1M3611.7 2367.1V2371.8M3608.1 2295.2h7.2M3608.1 2371.8h7.2M3605.6 2310.3h12.2M3668.9 2293.3V2306.5M3668.9 2366.6V2370.7M3665.3 2293.3h7.2M3665.3 2370.7h7.2M3662.8 2311.2h12.2M3726.0 2295.5V2318.3M3726.0 2370.2V2390.7M3722.4 2295.5h7.2M3722.4 2390.7h7.2M3719.9 2328.4h12.2M3783.2 2288.7V2304.3M3783.2 2346.3V2365.2M3779.6 2288.7h7.2M3779.6 2365.2h7.2M3777.1 2308.4h12.2M3840.3 2297.2V2311.2M3840.3 2350.4V2373.4M3836.7 2297.2h7.2M3836.7 2373.4h7.2M3834.2 2324.3h12.2" stroke="#3d3d3d" stroke-width="1.600" fill="none"/><g stroke="#3d3d3d" stroke-width="1.600"><rect x="2862.7" y="2301.8" width="12.2" height="16.7" fill="#a0132c"/><rect x="2919.8" y="2312.0" width="12.2" height="34.6" fill="#edb398"/><rect x="2977.0" y="2302.4" width="12.2" height="17.6" fill="#a0132c"/><rect x="3034.1" y="2310.9" width="12.2" height="39.5" fill="#ebae92"/><rect x="3091.3" y="2309.2" width="12.2" height="42.0" fill="#efc2aa"/><rect x="3148.4" y="2303.2" width="12.2" height="68.6" fill="#7a92ee"/><rect x="3205.6" y="2323.0" width="12.2" height="35.1" fill="#4e64d6"/><rect x="3262.7" y="2316.6" width="12.2" height="45.8" fill="#3f50c6"/><rect x="3319.9" y="2300.7" width="12.2" height="24.4" fill="#a8172d"/><rect x="3377.0" y="2300.7" width="12.2" height="26.3" fill="#d46a55"/><rect x="3434.2" y="2296.9" width="12.2" height="33.8" fill="#9c1029"/><rect x="3491.3" y="2307.0" width="12.2" height="36.5" fill="#e7a587"/><rect x="3548.5" y="2303.8" width="12.2" height="61.7" fill="#dc8466"/><rect x="3605.6" y="2305.1" width="12.2" height="62.0" fill="#e29577"/><rect x="3662.8" y="2306.5" width="12.2" height="60.1" fill="#df8c6e"/><rect x="3719.9" y="2318.3" width="12.2" height="51.9" fill="#d6dce8"/><rect x="3777.1" y="2304.3" width="12.2" height="42.0" fill="#c4503f"/><rect x="3834.2" y="2311.2" width="12.2" height="39.2" fill="#ecbba1"/></g><path d="M2862.7 2304.0h12.200M2919.8 2324.3h12.200M2977.0 2304.8h12.200M3034.1 2318.0h12.200M3091.3 2330.6h12.200M3148.4 2323.5h12.200M3205.6 2355.9h12.200M3262.7 2351.2h12.200M3319.9 2305.1h12.200M3377.0 2320.2h12.200M3434.2 2307.3h12.200M3491.3 2318.8h12.200M3548.5 2308.4h12.200M3605.6 2310.3h12.200M3662.8 2311.2h12.200M3719.9 2328.4h12.200M3777.1 2308.4h12.200M3834.2 2324.3h12.200" stroke="#3d3d3d" stroke-width="1.600" fill="none"/><g font-size="18.0" fill="#333" text-anchor="end"><text x="2835.600" y="2314.8">70</text><text x="2835.600" y="2345.0">60</text><text x="2835.600" y="2375.2">50</text></g><text transform="translate(2805.900,2339.6) rotate(-90)" text-anchor="middle" font-size="23.600" font-weight="bold" fill="#000">Accuracy</text><g font-size="18.0" fill="#333" text-anchor="middle"><text transform="translate(2868.8,2426.0) rotate(-30)" y="6.4">PRODEN</text><text transform="translate(2925.9,2418.1) rotate(-30)" y="6.4">CAVL</text><text transform="translate(2983.1,2416.2) rotate(-30)" y="6.4">POP</text><text transform="translate(3040.2,2427.0) rotate(-30)" y="6.4">ABS-MAE</text><text transform="translate(3097.4,2427.0) rotate(-30)" y="6.4">ABS-GCE</text><text transform="translate(3154.5,2415.7) rotate(-30)" y="6.4">EXP</text><text transform="translate(3211.7,2427.5) rotate(-30)" y="6.4">MCL-GCE</text><text transform="translate(3268.8,2427.5) rotate(-30)" y="6.4">MCL-MSE</text><text transform="translate(3326.0,2413.2) rotate(-30)" y="6.4">CC</text><text transform="translate(3383.1,2416.1) rotate(-30)" y="6.4">LWS</text><text transform="translate(3440.3,2417.7) rotate(-30)" y="6.4">IDGP</text><text transform="translate(3497.4,2413.0) rotate(-30)" y="6.4">PC</text><text transform="translate(3554.6,2423.4) rotate(-30)" y="6.7">Forward</text><text transform="translate(3611.7,2426.0) rotate(-30)" y="6.4">SCL-EXP</text><text transform="translate(3668.9,2422.7) rotate(-30)" y="6.4">SCL-NL</text><text transform="translate(3726.0,2414.9) rotate(-30)" y="6.4">L-W</text><text transform="translate(3783.2,2418.9) rotate(-30)" y="6.4">OP-W</text><text transform="translate(3840.3,2421.1) rotate(-30)" y="6.4">VALEN</text></g><rect x="3933.900" y="2282.9" width="5.500" height="113.3" fill="url(#cw)"/><g font-size="18.0" fill="#333"><text x="3943.300" y="2303.8">65</text><text x="3943.300" y="2343.6">60</text><text x="3943.300" y="2383.4">55</text></g><rect x="2840.2" y="2471.8" width="1028.7" height="113.1" fill="#eaeaf2"/><path d="M2868.8 2487.4V2491.6M2868.8 2509.9V2509.9M2865.2 2487.4h7.2M2865.2 2509.9h7.2M2862.7 2495.4h12.2M2925.9 2486.1V2501.4M2925.9 2536.3V2574.7M2922.3 2486.1h7.2M2922.3 2574.7h7.2M2919.8 2512.1h12.2M2983.1 2485.2V2492.1M2983.1 2511.0V2511.0M2979.5 2485.2h7.2M2979.5 2511.0h7.2M2977.0 2497.6h12.2M3040.2 2488.5V2502.0M3040.2 2542.9V2568.1M3036.6 2488.5h7.2M3036.6 2568.1h7.2M3034.1 2511.3h12.2M3097.4 2485.0V2498.7M3097.4 2536.3V2561.3M3093.8 2485.0h7.2M3093.8 2561.3h7.2M3091.3 2512.7h12.2M3154.5 2487.7V2495.9M3154.5 2565.9V2576.6M3150.9 2487.7h7.2M3150.9 2576.6h7.2M3148.4 2519.3h12.2M3211.7 2485.5V2506.9M3211.7 2551.9V2572.0M3208.1 2485.5h7.2M3208.1 2572.0h7.2M3205.6 2541.5h12.2M3268.8 2486.6V2509.9M3268.8 2551.1V2575.5M3265.2 2486.6h7.2M3265.2 2575.5h7.2M3262.7 2539.3h12.2M3326.0 2487.2V2492.4M3326.0 2509.9V2509.9M3322.4 2487.2h7.2M3322.4 2509.9h7.2M3319.9 2495.1h12.2M3383.1 2485.2V2487.2M3383.1 2514.9V2553.8M3379.5 2485.2h7.2M3379.5 2553.8h7.2M3377.0 2511.6h12.2M3440.3 2485.2V2493.8M3440.3 2511.9V2511.9M3436.7 2485.2h7.2M3436.7 2511.9h7.2M3434.2 2497.0h12.2M3497.4 2487.4V2499.5M3497.4 2537.1V2578.8M3493.8 2487.4h7.2M3493.8 2578.8h7.2M3491.3 2505.3h12.2M3554.6 2488.5V2494.0M3554.6 2560.7V2560.7M3551.0 2488.5h7.2M3551.0 2560.7h7.2M3548.5 2501.2h12.2M3611.7 2486.9V2495.7M3611.7 2560.4V2564.5M3608.1 2486.9h7.2M3608.1 2564.5h7.2M3605.6 2502.0h12.2M3668.9 2486.1V2498.1M3668.9 2558.2V2560.4M3665.3 2486.1h7.2M3665.3 2560.4h7.2M3662.8 2502.5h12.2M3726.0 2486.1V2506.6M3726.0 2563.4V2579.6M3722.4 2486.1h7.2M3722.4 2579.6h7.2M3719.9 2513.5h12.2M3783.2 2477.3V2493.5M3783.2 2539.0V2559.6M3779.6 2477.3h7.2M3779.6 2559.6h7.2M3777.1 2501.2h12.2M3840.3 2487.2V2503.4M3840.3 2537.9V2562.9M3836.7 2487.2h7.2M3836.7 2562.9h7.2M3834.2 2511.0h12.2" stroke="#3d3d3d" stroke-width="1.600" fill="none"/><g stroke="#3d3d3d" stroke-width="1.600"><rect x="2862.7" y="2491.6" width="12.2" height="18.4" fill="#a0132c"/><rect x="2919.8" y="2501.4" width="12.2" height="34.8" fill="#edb69c"/><rect x="2977.0" y="2492.1" width="12.2" height="18.9" fill="#a0132c"/><rect x="3034.1" y="2502.0" width="12.2" height="40.9" fill="#ebb095"/><rect x="3091.3" y="2498.7" width="12.2" height="37.6" fill="#eaa98c"/><rect x="3148.4" y="2495.9" width="12.2" height="70.0" fill="#5c74de"/><rect x="3205.6" y="2506.9" width="12.2" height="45.0" fill="#566ddc"/><rect x="3262.7" y="2509.9" width="12.2" height="41.2" fill="#4152c8"/><rect x="3319.9" y="2492.4" width="12.2" height="17.6" fill="#a8152c"/><rect x="3377.0" y="2487.2" width="12.2" height="27.7" fill="#d0614d"/><rect x="3434.2" y="2493.8" width="12.2" height="18.1" fill="#9c1029"/><rect x="3491.3" y="2499.5" width="12.2" height="37.6" fill="#e5a284"/><rect x="3548.5" y="2494.0" width="12.2" height="66.7" fill="#e09070"/><rect x="3605.6" y="2495.7" width="12.2" height="64.8" fill="#e49b7d"/><rect x="3662.8" y="2498.1" width="12.2" height="60.1" fill="#e09172"/><rect x="3719.9" y="2506.6" width="12.2" height="56.8" fill="#dcdcdc"/><rect x="3777.1" y="2493.5" width="12.2" height="45.5" fill="#c55442"/><rect x="3834.2" y="2503.4" width="12.2" height="34.6" fill="#eab094"/></g><path d="M2862.7 2495.4h12.200M2919.8 2512.1h12.200M2977.0 2497.6h12.200M3034.1 2511.3h12.200M3091.3 2512.7h12.200M3148.4 2519.3h12.200M3205.6 2541.5h12.200M3262.7 2539.3h12.200M3319.9 2495.1h12.200M3377.0 2511.6h12.200M3434.2 2497.0h12.200M3491.3 2505.3h12.200M3548.5 2501.2h12.200M3605.6 2502.0h12.200M3662.8 2502.5h12.200M3719.9 2513.5h12.200M3777.1 2501.2h12.200M3834.2 2511.0h12.200" stroke="#3d3d3d" stroke-width="1.600" fill="none"/><g font-size="18.0" fill="#333" text-anchor="end"><text x="2835.600" y="2506.2">70</text><text x="2835.600" y="2538.3">60</text><text x="2835.600" y="2570.1">50</text></g><text transform="translate(2805.900,2528.3) rotate(-90)" text-anchor="middle" font-size="23.600" font-weight="bold" fill="#000">Accuracy</text><g font-size="18.0" fill="#333" text-anchor="middle"><text transform="translate(2868.8,2614.6) rotate(-30)" y="6.4">PRODEN</text><text transform="translate(2925.9,2606.8) rotate(-30)" y="6.4">CAVL</text><text transform="translate(2983.1,2604.8) rotate(-30)" y="6.4">POP</text><text transform="translate(3040.2,2615.6) rotate(-30)" y="6.4">ABS-MAE</text><text transform="translate(3097.4,2615.6) rotate(-30)" y="6.4">ABS-GCE</text><text transform="translate(3154.5,2604.3) rotate(-30)" y="6.4">EXP</text><text transform="translate(3211.7,2616.1) rotate(-30)" y="6.4">MCL-GCE</text><text transform="translate(3268.8,2616.1) rotate(-30)" y="6.4">MCL-MSE</text><text transform="translate(3326.0,2601.8) rotate(-30)" y="6.4">CC</text><text transform="translate(3383.1,2604.7) rotate(-30)" y="6.4">LWS</text><text transform="translate(3440.3,2606.3) rotate(-30)" y="6.4">IDGP</text><text transform="translate(3497.4,2601.6) rotate(-30)" y="6.4">PC</text><text transform="translate(3554.6,2612.0) rotate(-30)" y="6.7">Forward</text><text transform="translate(3611.7,2614.6) rotate(-30)" y="6.4">SCL-EXP</text><text transform="translate(3668.9,2611.3) rotate(-30)" y="6.4">SCL-NL</text><text transform="translate(3726.0,2603.6) rotate(-30)" y="6.4">L-W</text><text transform="translate(3783.2,2607.6) rotate(-30)" y="6.4">OP-W</text><text transform="translate(3840.3,2609.8) rotate(-30)" y="6.4">VALEN</text></g><rect x="3933.900" y="2471.8" width="5.500" height="113.1" fill="url(#cw)"/><g font-size="18.0" fill="#333"><text x="3943.300" y="2496.0">65</text><text x="3943.300" y="2537.7">60</text><text x="3943.300" y="2578.9">55</text></g></svg>
<svg class="ab" style="left:2761.3px;top:2693.5px" width="35" height="39" viewBox="0 0 35 39"><path d="M0.5 0.8 L34 19.3 L0.5 38 L9.8 19.3 Z" fill="#000"/><path d="M3.6 4.6 L28.6 18.5 L11.2 18.5 Z" fill="#fff"/></svg>
<div class="t" style="left:2804.0px;top:2681.69px;font-size:53.05px;line-height:63.85px;">Some early PLL algorithms can achieve better<br>classification performance.</div>
</body></html>
